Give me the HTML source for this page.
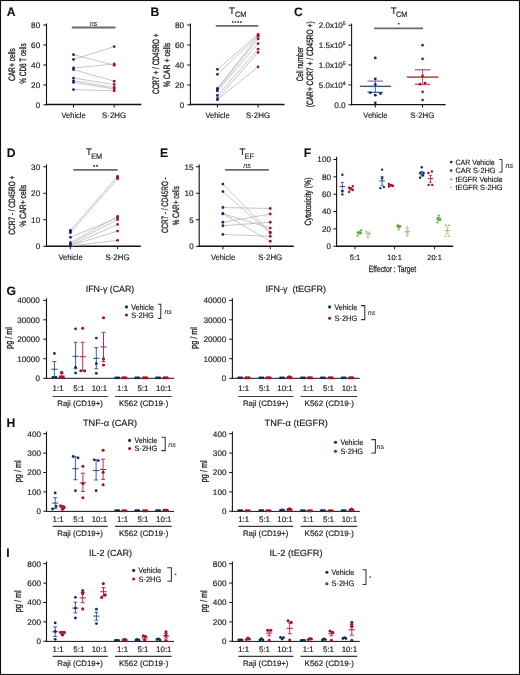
<!DOCTYPE html>
<html><head><meta charset="utf-8"><style>
html,body{margin:0;padding:0;background:#fff;}
body{width:520px;height:675px;overflow:hidden;}
svg{display:block;font-family:"Liberation Sans", sans-serif;will-change:transform;}
text{stroke:#1e1e1e;stroke-width:0.18px;text-rendering:geometricPrecision;}
</style></head><body>
<svg width="520" height="675" viewBox="0 0 520 675">
<g>
<text x="6.80" y="15.70" font-size="12.2" text-anchor="start" fill="#111" font-weight="bold" style="stroke-width:0.1px">A</text>
<line x1="46.50" y1="23.50" x2="46.50" y2="105.20" stroke="#111" stroke-width="1.1"/>
<line x1="43.30" y1="25.00" x2="46.50" y2="25.00" stroke="#111" stroke-width="1.0"/>
<text x="40.20" y="27.85" font-size="8.0" text-anchor="end" fill="#1e1e1e" textLength="9.08" lengthAdjust="spacingAndGlyphs">80</text>
<line x1="43.30" y1="45.00" x2="46.50" y2="45.00" stroke="#111" stroke-width="1.0"/>
<text x="40.20" y="47.85" font-size="8.0" text-anchor="end" fill="#1e1e1e" textLength="9.08" lengthAdjust="spacingAndGlyphs">60</text>
<line x1="43.30" y1="65.00" x2="46.50" y2="65.00" stroke="#111" stroke-width="1.0"/>
<text x="40.20" y="67.85" font-size="8.0" text-anchor="end" fill="#1e1e1e" textLength="9.08" lengthAdjust="spacingAndGlyphs">40</text>
<line x1="43.30" y1="85.00" x2="46.50" y2="85.00" stroke="#111" stroke-width="1.0"/>
<text x="40.20" y="87.85" font-size="8.0" text-anchor="end" fill="#1e1e1e" textLength="9.08" lengthAdjust="spacingAndGlyphs">20</text>
<line x1="43.30" y1="104.80" x2="46.50" y2="104.80" stroke="#111" stroke-width="1.0"/>
<text x="40.20" y="107.65" font-size="8.0" text-anchor="end" fill="#1e1e1e">0</text>
<line x1="45.90" y1="104.50" x2="141.30" y2="104.50" stroke="#111" stroke-width="1.4"/>
<line x1="73.50" y1="104.60" x2="73.50" y2="107.60" stroke="#111" stroke-width="1.0"/>
<line x1="114.20" y1="104.60" x2="114.20" y2="107.60" stroke="#111" stroke-width="1.0"/>
<text x="73.60" y="117.60" font-size="8.0" text-anchor="middle" fill="#1e1e1e" textLength="24.2" lengthAdjust="spacingAndGlyphs">Vehicle</text>
<text x="114.10" y="117.60" font-size="8.0" text-anchor="middle" fill="#1e1e1e" textLength="24.1" lengthAdjust="spacingAndGlyphs">S·2HG</text>
<text x="14.90" y="64.60" font-size="9.2" text-anchor="middle" fill="#1e1e1e" textLength="33" lengthAdjust="spacingAndGlyphs" transform="rotate(-90 14.90 64.60)" style="stroke-width:0.32px">CAR+ cells</text>
<text x="25.60" y="63.50" font-size="9.2" text-anchor="middle" fill="#1e1e1e" textLength="40.5" lengthAdjust="spacingAndGlyphs" transform="rotate(-90 25.60 63.50)" style="stroke-width:0.32px">% CD8 T cells</text>
<line x1="71.80" y1="27.50" x2="115.50" y2="27.50" stroke="#6a6a6a" stroke-width="1.8"/>
<text x="93.60" y="25.60" font-size="7.3" text-anchor="middle" fill="#1e1e1e" font-style="italic" style="stroke-width:0.05px">ns</text>
<line x1="73.50" y1="54.65" x2="114.20" y2="65.20" stroke="#bcbcbc" stroke-width="0.85"/>
<line x1="73.50" y1="59.40" x2="114.20" y2="46.60" stroke="#bcbcbc" stroke-width="0.85"/>
<line x1="73.50" y1="68.00" x2="114.20" y2="64.00" stroke="#bcbcbc" stroke-width="0.85"/>
<line x1="73.50" y1="69.60" x2="114.20" y2="81.20" stroke="#bcbcbc" stroke-width="0.85"/>
<line x1="73.50" y1="78.10" x2="114.20" y2="84.50" stroke="#bcbcbc" stroke-width="0.85"/>
<line x1="73.50" y1="80.80" x2="114.20" y2="87.50" stroke="#bcbcbc" stroke-width="0.85"/>
<line x1="73.50" y1="82.40" x2="114.20" y2="89.00" stroke="#bcbcbc" stroke-width="0.85"/>
<line x1="73.50" y1="89.60" x2="114.20" y2="90.80" stroke="#bcbcbc" stroke-width="0.85"/>
<circle cx="73.50" cy="54.65" r="1.4" fill="#0e2c6c"/>
<circle cx="114.20" cy="65.20" r="1.4" fill="#a8102c"/>
<circle cx="73.50" cy="59.40" r="1.4" fill="#0e2c6c"/>
<circle cx="114.20" cy="46.60" r="1.4" fill="#a8102c"/>
<circle cx="73.50" cy="68.00" r="1.4" fill="#0e2c6c"/>
<circle cx="114.20" cy="64.00" r="1.4" fill="#a8102c"/>
<circle cx="73.50" cy="69.60" r="1.4" fill="#0e2c6c"/>
<circle cx="114.20" cy="81.20" r="1.4" fill="#a8102c"/>
<circle cx="73.50" cy="78.10" r="1.4" fill="#0e2c6c"/>
<circle cx="114.20" cy="84.50" r="1.4" fill="#a8102c"/>
<circle cx="73.50" cy="80.80" r="1.4" fill="#0e2c6c"/>
<circle cx="114.20" cy="87.50" r="1.4" fill="#a8102c"/>
<circle cx="73.50" cy="82.40" r="1.4" fill="#0e2c6c"/>
<circle cx="114.20" cy="89.00" r="1.4" fill="#a8102c"/>
<circle cx="73.50" cy="89.60" r="1.4" fill="#0e2c6c"/>
<circle cx="114.20" cy="90.80" r="1.4" fill="#a8102c"/>
<text x="150.60" y="15.70" font-size="12.2" text-anchor="start" fill="#111" font-weight="bold" style="stroke-width:0.1px">B</text>
<line x1="190.40" y1="23.50" x2="190.40" y2="105.20" stroke="#111" stroke-width="1.1"/>
<line x1="187.20" y1="25.00" x2="190.40" y2="25.00" stroke="#111" stroke-width="1.0"/>
<text x="184.10" y="27.85" font-size="8.0" text-anchor="end" fill="#1e1e1e" textLength="9.08" lengthAdjust="spacingAndGlyphs">80</text>
<line x1="187.20" y1="45.00" x2="190.40" y2="45.00" stroke="#111" stroke-width="1.0"/>
<text x="184.10" y="47.85" font-size="8.0" text-anchor="end" fill="#1e1e1e" textLength="9.08" lengthAdjust="spacingAndGlyphs">60</text>
<line x1="187.20" y1="65.00" x2="190.40" y2="65.00" stroke="#111" stroke-width="1.0"/>
<text x="184.10" y="67.85" font-size="8.0" text-anchor="end" fill="#1e1e1e" textLength="9.08" lengthAdjust="spacingAndGlyphs">40</text>
<line x1="187.20" y1="85.00" x2="190.40" y2="85.00" stroke="#111" stroke-width="1.0"/>
<text x="184.10" y="87.85" font-size="8.0" text-anchor="end" fill="#1e1e1e" textLength="9.08" lengthAdjust="spacingAndGlyphs">20</text>
<line x1="187.20" y1="104.80" x2="190.40" y2="104.80" stroke="#111" stroke-width="1.0"/>
<text x="184.10" y="107.65" font-size="8.0" text-anchor="end" fill="#1e1e1e">0</text>
<line x1="189.80" y1="104.50" x2="284.60" y2="104.50" stroke="#111" stroke-width="1.4"/>
<line x1="217.40" y1="104.60" x2="217.40" y2="107.60" stroke="#111" stroke-width="1.0"/>
<line x1="258.10" y1="104.60" x2="258.10" y2="107.60" stroke="#111" stroke-width="1.0"/>
<text x="217.50" y="117.60" font-size="8.0" text-anchor="middle" fill="#1e1e1e" textLength="24.2" lengthAdjust="spacingAndGlyphs">Vehicle</text>
<text x="258.00" y="117.60" font-size="8.0" text-anchor="middle" fill="#1e1e1e" textLength="24.1" lengthAdjust="spacingAndGlyphs">S·2HG</text>
<text x="159.00" y="63.70" font-size="9.2" text-anchor="middle" fill="#1e1e1e" textLength="60.7" lengthAdjust="spacingAndGlyphs" transform="rotate(-90 159.00 63.70)" style="stroke-width:0.32px">CCR7 + / CD45RO +</text>
<text x="169.60" y="65.00" font-size="9.2" text-anchor="middle" fill="#1e1e1e" textLength="44.6" lengthAdjust="spacingAndGlyphs" transform="rotate(-90 169.60 65.00)" style="stroke-width:0.32px">% CAR + cells</text>
<line x1="215.70" y1="25.80" x2="258.30" y2="25.80" stroke="#6a6a6a" stroke-width="1.8"/>
<rect x="231.90" y="21.2" width="1.6" height="1.6" fill="#333"/>
<rect x="234.65" y="21.2" width="1.6" height="1.6" fill="#333"/>
<rect x="237.40" y="21.2" width="1.6" height="1.6" fill="#333"/>
<rect x="240.15" y="21.2" width="1.6" height="1.6" fill="#333"/>
<text x="229.00" y="13.60" font-size="9.6" text-anchor="start" fill="#1e1e1e">T</text>
<text x="234.90" y="16.80" font-size="7.8" text-anchor="start" fill="#1e1e1e" textLength="11.35" lengthAdjust="spacingAndGlyphs">CM</text>
<line x1="217.40" y1="69.30" x2="258.10" y2="34.30" stroke="#bcbcbc" stroke-width="0.85"/>
<line x1="217.40" y1="74.30" x2="258.10" y2="35.60" stroke="#bcbcbc" stroke-width="0.85"/>
<line x1="217.40" y1="88.30" x2="258.10" y2="36.40" stroke="#bcbcbc" stroke-width="0.85"/>
<line x1="217.40" y1="89.30" x2="258.10" y2="38.90" stroke="#bcbcbc" stroke-width="0.85"/>
<line x1="217.40" y1="90.90" x2="258.10" y2="43.60" stroke="#bcbcbc" stroke-width="0.85"/>
<line x1="217.40" y1="95.50" x2="258.10" y2="49.10" stroke="#bcbcbc" stroke-width="0.85"/>
<line x1="217.40" y1="98.70" x2="258.10" y2="52.40" stroke="#bcbcbc" stroke-width="0.85"/>
<line x1="217.40" y1="99.70" x2="258.10" y2="66.90" stroke="#bcbcbc" stroke-width="0.85"/>
<circle cx="217.40" cy="69.30" r="1.4" fill="#0e2c6c"/>
<circle cx="258.10" cy="34.30" r="1.4" fill="#a8102c"/>
<circle cx="217.40" cy="74.30" r="1.4" fill="#0e2c6c"/>
<circle cx="258.10" cy="35.60" r="1.4" fill="#a8102c"/>
<circle cx="217.40" cy="88.30" r="1.4" fill="#0e2c6c"/>
<circle cx="258.10" cy="36.40" r="1.4" fill="#a8102c"/>
<circle cx="217.40" cy="89.30" r="1.4" fill="#0e2c6c"/>
<circle cx="258.10" cy="38.90" r="1.4" fill="#a8102c"/>
<circle cx="217.40" cy="90.90" r="1.4" fill="#0e2c6c"/>
<circle cx="258.10" cy="43.60" r="1.4" fill="#a8102c"/>
<circle cx="217.40" cy="95.50" r="1.4" fill="#0e2c6c"/>
<circle cx="258.10" cy="49.10" r="1.4" fill="#a8102c"/>
<circle cx="217.40" cy="98.70" r="1.4" fill="#0e2c6c"/>
<circle cx="258.10" cy="52.40" r="1.4" fill="#a8102c"/>
<circle cx="217.40" cy="99.70" r="1.4" fill="#0e2c6c"/>
<circle cx="258.10" cy="66.90" r="1.4" fill="#a8102c"/>
<text x="294.10" y="15.70" font-size="12.2" text-anchor="start" fill="#111" font-weight="bold" style="stroke-width:0.1px">C</text>
<line x1="351.60" y1="23.50" x2="351.60" y2="105.20" stroke="#111" stroke-width="1.1"/>
<line x1="348.40" y1="25.30" x2="351.60" y2="25.30" stroke="#111" stroke-width="1.0"/>
<line x1="348.40" y1="45.10" x2="351.60" y2="45.10" stroke="#111" stroke-width="1.0"/>
<line x1="348.40" y1="65.00" x2="351.60" y2="65.00" stroke="#111" stroke-width="1.0"/>
<line x1="348.40" y1="84.90" x2="351.60" y2="84.90" stroke="#111" stroke-width="1.0"/>
<line x1="348.40" y1="104.80" x2="351.60" y2="104.80" stroke="#111" stroke-width="1.0"/>
<text x="345.60" y="107.65" font-size="8.0" text-anchor="end" fill="#1e1e1e" textLength="11.34" lengthAdjust="spacingAndGlyphs">0.0</text>
<text x="318.80" y="28.15" font-size="8.0" text-anchor="start" fill="#1e1e1e">2.0x10<tspan font-size="5.2" dy="-2.8">5</tspan></text>
<text x="318.80" y="47.95" font-size="8.0" text-anchor="start" fill="#1e1e1e">1.5x10<tspan font-size="5.2" dy="-2.8">5</tspan></text>
<text x="318.80" y="67.85" font-size="8.0" text-anchor="start" fill="#1e1e1e">1.0x10<tspan font-size="5.2" dy="-2.8">5</tspan></text>
<text x="318.80" y="87.75" font-size="8.0" text-anchor="start" fill="#1e1e1e">5.0x10<tspan font-size="5.2" dy="-2.8">4</tspan></text>
<line x1="351.00" y1="104.60" x2="445.60" y2="104.60" stroke="#111" stroke-width="1.4"/>
<line x1="375.30" y1="104.60" x2="375.30" y2="107.60" stroke="#111" stroke-width="1.0"/>
<line x1="422.50" y1="104.60" x2="422.50" y2="107.60" stroke="#111" stroke-width="1.0"/>
<text x="375.40" y="117.60" font-size="8.0" text-anchor="middle" fill="#1e1e1e" textLength="24.2" lengthAdjust="spacingAndGlyphs">Vehicle</text>
<text x="422.40" y="117.60" font-size="8.0" text-anchor="middle" fill="#1e1e1e" textLength="24.1" lengthAdjust="spacingAndGlyphs">S·2HG</text>
<text x="303.40" y="64.00" font-size="9.2" text-anchor="middle" fill="#1e1e1e" textLength="34.5" lengthAdjust="spacingAndGlyphs" transform="rotate(-90 303.40 64.00)" style="stroke-width:0.32px">Cell number</text>
<text x="312.60" y="64.30" font-size="9.2" text-anchor="middle" fill="#1e1e1e" textLength="86" lengthAdjust="spacingAndGlyphs" transform="rotate(-90 312.60 64.30)" style="stroke-width:0.32px">(CAR+ CCR7 + / CD45RO +)</text>
<line x1="374.20" y1="28.30" x2="423.00" y2="28.30" stroke="#6a6a6a" stroke-width="1.8"/>
<rect x="398.0" y="22.9" width="1.5" height="1.5" fill="#333"/>
<text x="390.80" y="14.20" font-size="9.6" text-anchor="start" fill="#1e1e1e">T</text>
<text x="396.00" y="17.00" font-size="7.8" text-anchor="start" fill="#1e1e1e" textLength="11.35" lengthAdjust="spacingAndGlyphs">CM</text>
<line x1="375.30" y1="81.10" x2="375.30" y2="92.30" stroke="#2c4b8c" stroke-width="0.9"/>
<line x1="367.50" y1="81.10" x2="383.00" y2="81.10" stroke="#5a72a6" stroke-width="1.1"/>
<line x1="367.50" y1="92.30" x2="383.00" y2="92.30" stroke="#2c4b8c" stroke-width="1.1"/>
<line x1="359.80" y1="86.30" x2="391.00" y2="86.30" stroke="#2c4b8c" stroke-width="1.3"/>
<circle cx="375.30" cy="57.90" r="1.4" fill="#0e2c6c"/>
<circle cx="375.30" cy="79.00" r="1.4" fill="#0e2c6c"/>
<circle cx="375.30" cy="84.60" r="1.4" fill="#0e2c6c"/>
<circle cx="370.30" cy="92.60" r="1.4" fill="#0e2c6c"/>
<circle cx="380.50" cy="93.60" r="1.4" fill="#0e2c6c"/>
<circle cx="375.30" cy="95.20" r="1.4" fill="#0e2c6c"/>
<circle cx="375.30" cy="102.80" r="1.4" fill="#0e2c6c"/>
<line x1="422.60" y1="69.80" x2="422.60" y2="84.30" stroke="#c4325a" stroke-width="0.9"/>
<line x1="414.90" y1="69.80" x2="430.40" y2="69.80" stroke="#c4325a" stroke-width="1.1"/>
<line x1="414.90" y1="84.30" x2="430.40" y2="84.30" stroke="#c4325a" stroke-width="1.1"/>
<line x1="406.90" y1="77.10" x2="438.50" y2="77.10" stroke="#b2604a" stroke-width="1.7"/>
<circle cx="422.60" cy="45.20" r="1.4" fill="#a8102c"/>
<circle cx="422.60" cy="58.90" r="1.4" fill="#a8102c"/>
<circle cx="422.60" cy="75.90" r="1.4" fill="#a8102c"/>
<circle cx="419.90" cy="84.20" r="1.4" fill="#a8102c"/>
<circle cx="425.10" cy="83.10" r="1.4" fill="#a8102c"/>
<circle cx="422.60" cy="91.80" r="1.4" fill="#a8102c"/>
<circle cx="422.60" cy="100.10" r="1.4" fill="#a8102c"/>
<text x="6.80" y="157.30" font-size="12.2" text-anchor="start" fill="#111" font-weight="bold" style="stroke-width:0.1px">D</text>
<line x1="46.50" y1="164.50" x2="46.50" y2="246.80" stroke="#111" stroke-width="1.1"/>
<line x1="43.30" y1="166.75" x2="46.50" y2="166.75" stroke="#111" stroke-width="1.0"/>
<text x="40.20" y="169.60" font-size="8.0" text-anchor="end" fill="#1e1e1e" textLength="9.08" lengthAdjust="spacingAndGlyphs">30</text>
<line x1="43.30" y1="193.25" x2="46.50" y2="193.25" stroke="#111" stroke-width="1.0"/>
<text x="40.20" y="196.10" font-size="8.0" text-anchor="end" fill="#1e1e1e" textLength="9.08" lengthAdjust="spacingAndGlyphs">20</text>
<line x1="43.30" y1="219.75" x2="46.50" y2="219.75" stroke="#111" stroke-width="1.0"/>
<text x="40.20" y="222.60" font-size="8.0" text-anchor="end" fill="#1e1e1e" textLength="9.08" lengthAdjust="spacingAndGlyphs">10</text>
<line x1="43.30" y1="246.30" x2="46.50" y2="246.30" stroke="#111" stroke-width="1.0"/>
<text x="40.20" y="249.15" font-size="8.0" text-anchor="end" fill="#1e1e1e">0</text>
<line x1="45.90" y1="246.20" x2="140.80" y2="246.20" stroke="#111" stroke-width="1.4"/>
<line x1="70.40" y1="246.30" x2="70.40" y2="249.30" stroke="#111" stroke-width="1.0"/>
<line x1="117.60" y1="246.30" x2="117.60" y2="249.30" stroke="#111" stroke-width="1.0"/>
<text x="70.50" y="259.50" font-size="8.0" text-anchor="middle" fill="#1e1e1e" textLength="24.2" lengthAdjust="spacingAndGlyphs">Vehicle</text>
<text x="117.50" y="259.50" font-size="8.0" text-anchor="middle" fill="#1e1e1e" textLength="24.1" lengthAdjust="spacingAndGlyphs">S·2HG</text>
<text x="15.30" y="205.20" font-size="9.2" text-anchor="middle" fill="#1e1e1e" textLength="59" lengthAdjust="spacingAndGlyphs" transform="rotate(-90 15.30 205.20)" style="stroke-width:0.32px">CCR7 - / CD45RO +</text>
<text x="25.90" y="205.70" font-size="9.2" text-anchor="middle" fill="#1e1e1e" textLength="42" lengthAdjust="spacingAndGlyphs" transform="rotate(-90 25.90 205.70)" style="stroke-width:0.32px">% CAR+ cells</text>
<line x1="73.30" y1="169.80" x2="117.60" y2="169.80" stroke="#6a6a6a" stroke-width="1.8"/>
<rect x="93.30" y="165.0" width="1.7" height="1.7" fill="#333"/>
<rect x="96.20" y="165.0" width="1.7" height="1.7" fill="#333"/>
<text x="86.00" y="155.00" font-size="9.6" text-anchor="start" fill="#1e1e1e">T</text>
<text x="91.20" y="158.70" font-size="7.8" text-anchor="start" fill="#1e1e1e" textLength="10.95" lengthAdjust="spacingAndGlyphs">EM</text>
<line x1="70.40" y1="230.30" x2="117.60" y2="176.30" stroke="#bcbcbc" stroke-width="0.85"/>
<line x1="70.40" y1="232.70" x2="117.60" y2="178.70" stroke="#bcbcbc" stroke-width="0.85"/>
<line x1="70.40" y1="237.30" x2="117.60" y2="217.70" stroke="#bcbcbc" stroke-width="0.85"/>
<line x1="70.40" y1="242.70" x2="117.60" y2="216.40" stroke="#bcbcbc" stroke-width="0.85"/>
<line x1="70.40" y1="244.00" x2="117.60" y2="219.60" stroke="#bcbcbc" stroke-width="0.85"/>
<line x1="70.40" y1="245.30" x2="117.60" y2="224.40" stroke="#bcbcbc" stroke-width="0.85"/>
<line x1="70.40" y1="245.60" x2="117.60" y2="231.10" stroke="#bcbcbc" stroke-width="0.85"/>
<line x1="70.40" y1="246.00" x2="117.60" y2="240.30" stroke="#bcbcbc" stroke-width="0.85"/>
<circle cx="70.40" cy="230.30" r="1.4" fill="#0e2c6c"/>
<circle cx="117.60" cy="176.30" r="1.4" fill="#a8102c"/>
<circle cx="70.40" cy="232.70" r="1.4" fill="#0e2c6c"/>
<circle cx="117.60" cy="178.70" r="1.4" fill="#a8102c"/>
<circle cx="70.40" cy="237.30" r="1.4" fill="#0e2c6c"/>
<circle cx="117.60" cy="217.70" r="1.4" fill="#a8102c"/>
<circle cx="70.40" cy="242.70" r="1.4" fill="#0e2c6c"/>
<circle cx="117.60" cy="216.40" r="1.4" fill="#a8102c"/>
<circle cx="70.40" cy="244.00" r="1.4" fill="#0e2c6c"/>
<circle cx="117.60" cy="219.60" r="1.4" fill="#a8102c"/>
<circle cx="70.40" cy="245.30" r="1.4" fill="#0e2c6c"/>
<circle cx="117.60" cy="224.40" r="1.4" fill="#a8102c"/>
<circle cx="70.40" cy="245.60" r="1.4" fill="#0e2c6c"/>
<circle cx="117.60" cy="231.10" r="1.4" fill="#a8102c"/>
<circle cx="70.40" cy="246.00" r="1.4" fill="#0e2c6c"/>
<circle cx="117.60" cy="240.30" r="1.4" fill="#a8102c"/>
<circle cx="117.60" cy="177.30" r="1.4" fill="#a8102c"/>
<circle cx="70.40" cy="231.60" r="1.4" fill="#0e2c6c"/>
<text x="160.00" y="157.30" font-size="12.2" text-anchor="start" fill="#111" font-weight="bold" style="stroke-width:0.1px">E</text>
<line x1="199.20" y1="164.50" x2="199.20" y2="246.90" stroke="#111" stroke-width="1.1"/>
<line x1="196.00" y1="166.75" x2="199.20" y2="166.75" stroke="#111" stroke-width="1.0"/>
<text x="193.60" y="169.60" font-size="8.0" text-anchor="end" fill="#1e1e1e" textLength="9.08" lengthAdjust="spacingAndGlyphs">15</text>
<line x1="196.00" y1="193.25" x2="199.20" y2="193.25" stroke="#111" stroke-width="1.0"/>
<text x="193.60" y="196.10" font-size="8.0" text-anchor="end" fill="#1e1e1e" textLength="9.08" lengthAdjust="spacingAndGlyphs">10</text>
<line x1="196.00" y1="219.75" x2="199.20" y2="219.75" stroke="#111" stroke-width="1.0"/>
<text x="193.60" y="222.60" font-size="8.0" text-anchor="end" fill="#1e1e1e">5</text>
<line x1="196.00" y1="246.30" x2="199.20" y2="246.30" stroke="#111" stroke-width="1.0"/>
<text x="193.60" y="249.15" font-size="8.0" text-anchor="end" fill="#1e1e1e">0</text>
<line x1="198.60" y1="246.20" x2="293.80" y2="246.20" stroke="#111" stroke-width="1.4"/>
<line x1="222.90" y1="246.30" x2="222.90" y2="249.30" stroke="#111" stroke-width="1.0"/>
<line x1="270.25" y1="246.30" x2="270.25" y2="249.30" stroke="#111" stroke-width="1.0"/>
<text x="223.00" y="259.50" font-size="8.0" text-anchor="middle" fill="#1e1e1e" textLength="24.2" lengthAdjust="spacingAndGlyphs">Vehicle</text>
<text x="270.20" y="259.50" font-size="8.0" text-anchor="middle" fill="#1e1e1e" textLength="24.1" lengthAdjust="spacingAndGlyphs">S·2HG</text>
<text x="168.30" y="205.20" font-size="9.2" text-anchor="middle" fill="#1e1e1e" textLength="55.7" lengthAdjust="spacingAndGlyphs" transform="rotate(-90 168.30 205.20)" style="stroke-width:0.32px">CCR7 - / CD45RO -</text>
<text x="178.90" y="205.70" font-size="9.2" text-anchor="middle" fill="#1e1e1e" textLength="39.3" lengthAdjust="spacingAndGlyphs" transform="rotate(-90 178.90 205.70)" style="stroke-width:0.32px">% CAR+ cells</text>
<line x1="225.00" y1="169.80" x2="268.80" y2="169.80" stroke="#6a6a6a" stroke-width="1.8"/>
<text x="247.00" y="167.90" font-size="7.3" text-anchor="middle" fill="#1e1e1e" font-style="italic" style="stroke-width:0.05px">ns</text>
<text x="239.40" y="155.00" font-size="9.6" text-anchor="start" fill="#1e1e1e">T</text>
<text x="244.60" y="158.70" font-size="7.8" text-anchor="start" fill="#1e1e1e" textLength="9.33" lengthAdjust="spacingAndGlyphs">EF</text>
<line x1="222.90" y1="184.10" x2="270.25" y2="232.25" stroke="#bcbcbc" stroke-width="0.85"/>
<line x1="222.90" y1="191.60" x2="270.25" y2="233.10" stroke="#bcbcbc" stroke-width="0.85"/>
<line x1="222.90" y1="207.50" x2="270.25" y2="208.50" stroke="#bcbcbc" stroke-width="0.85"/>
<line x1="222.90" y1="213.75" x2="270.25" y2="228.10" stroke="#bcbcbc" stroke-width="0.85"/>
<line x1="222.90" y1="213.75" x2="270.25" y2="241.25" stroke="#bcbcbc" stroke-width="0.85"/>
<line x1="222.90" y1="222.25" x2="270.25" y2="214.00" stroke="#bcbcbc" stroke-width="0.85"/>
<line x1="222.90" y1="225.75" x2="270.25" y2="222.25" stroke="#bcbcbc" stroke-width="0.85"/>
<line x1="222.90" y1="234.40" x2="270.25" y2="236.25" stroke="#bcbcbc" stroke-width="0.85"/>
<circle cx="222.90" cy="184.10" r="1.4" fill="#0e2c6c"/>
<circle cx="270.25" cy="232.25" r="1.4" fill="#a8102c"/>
<circle cx="222.90" cy="191.60" r="1.4" fill="#0e2c6c"/>
<circle cx="270.25" cy="233.10" r="1.4" fill="#a8102c"/>
<circle cx="222.90" cy="207.50" r="1.4" fill="#0e2c6c"/>
<circle cx="270.25" cy="208.50" r="1.4" fill="#a8102c"/>
<circle cx="222.90" cy="213.75" r="1.4" fill="#0e2c6c"/>
<circle cx="270.25" cy="228.10" r="1.4" fill="#a8102c"/>
<circle cx="222.90" cy="213.75" r="1.4" fill="#0e2c6c"/>
<circle cx="270.25" cy="241.25" r="1.4" fill="#a8102c"/>
<circle cx="222.90" cy="222.25" r="1.4" fill="#0e2c6c"/>
<circle cx="270.25" cy="214.00" r="1.4" fill="#a8102c"/>
<circle cx="222.90" cy="225.75" r="1.4" fill="#0e2c6c"/>
<circle cx="270.25" cy="222.25" r="1.4" fill="#a8102c"/>
<circle cx="222.90" cy="234.40" r="1.4" fill="#0e2c6c"/>
<circle cx="270.25" cy="236.25" r="1.4" fill="#a8102c"/>
<text x="303.80" y="157.30" font-size="12.2" text-anchor="start" fill="#111" font-weight="bold" style="stroke-width:0.1px">F</text>
<line x1="336.60" y1="156.70" x2="336.60" y2="246.80" stroke="#111" stroke-width="1.1"/>
<line x1="333.40" y1="159.50" x2="336.60" y2="159.50" stroke="#111" stroke-width="1.0"/>
<text x="331.00" y="162.35" font-size="8.0" text-anchor="end" fill="#1e1e1e" textLength="13.61" lengthAdjust="spacingAndGlyphs">100</text>
<line x1="333.40" y1="176.85" x2="336.60" y2="176.85" stroke="#111" stroke-width="1.0"/>
<text x="331.00" y="179.70" font-size="8.0" text-anchor="end" fill="#1e1e1e" textLength="9.08" lengthAdjust="spacingAndGlyphs">80</text>
<line x1="333.40" y1="194.20" x2="336.60" y2="194.20" stroke="#111" stroke-width="1.0"/>
<text x="331.00" y="197.05" font-size="8.0" text-anchor="end" fill="#1e1e1e" textLength="9.08" lengthAdjust="spacingAndGlyphs">60</text>
<line x1="333.40" y1="211.55" x2="336.60" y2="211.55" stroke="#111" stroke-width="1.0"/>
<text x="331.00" y="214.40" font-size="8.0" text-anchor="end" fill="#1e1e1e" textLength="9.08" lengthAdjust="spacingAndGlyphs">40</text>
<line x1="333.40" y1="228.90" x2="336.60" y2="228.90" stroke="#111" stroke-width="1.0"/>
<text x="331.00" y="231.75" font-size="8.0" text-anchor="end" fill="#1e1e1e" textLength="9.08" lengthAdjust="spacingAndGlyphs">20</text>
<line x1="333.40" y1="246.25" x2="336.60" y2="246.25" stroke="#111" stroke-width="1.0"/>
<text x="331.00" y="249.10" font-size="8.0" text-anchor="end" fill="#1e1e1e">0</text>
<line x1="336.00" y1="246.20" x2="453.20" y2="246.20" stroke="#111" stroke-width="1.4"/>
<line x1="355.00" y1="246.30" x2="355.00" y2="249.30" stroke="#111" stroke-width="1.0"/>
<text x="355.00" y="259.60" font-size="7.5" text-anchor="middle" fill="#1e1e1e">5:1</text>
<line x1="394.60" y1="246.30" x2="394.60" y2="249.30" stroke="#111" stroke-width="1.0"/>
<text x="394.60" y="259.60" font-size="7.5" text-anchor="middle" fill="#1e1e1e">10:1</text>
<line x1="434.60" y1="246.30" x2="434.60" y2="249.30" stroke="#111" stroke-width="1.0"/>
<text x="434.60" y="259.60" font-size="7.5" text-anchor="middle" fill="#1e1e1e">20:1</text>
<text x="392.50" y="271.80" font-size="9.0" text-anchor="middle" fill="#1e1e1e" textLength="47.5" lengthAdjust="spacingAndGlyphs" style="stroke-width:0.25px">Effector : Target</text>
<text x="310.80" y="201.50" font-size="9.2" text-anchor="middle" fill="#1e1e1e" textLength="48" lengthAdjust="spacingAndGlyphs" transform="rotate(-90 310.80 201.50)" style="stroke-width:0.32px">Cytotoxicity (%)</text>
<line x1="342.40" y1="182.50" x2="342.40" y2="190.50" stroke="#2c4b8c" stroke-width="0.8"/>
<line x1="340.70" y1="182.50" x2="344.10" y2="182.50" stroke="#2c4b8c" stroke-width="0.8"/>
<line x1="340.70" y1="190.50" x2="344.10" y2="190.50" stroke="#2c4b8c" stroke-width="0.8"/>
<line x1="339.70" y1="186.50" x2="345.10" y2="186.50" stroke="#2c4b8c" stroke-width="1.0"/>
<circle cx="342.40" cy="174.70" r="1.2" fill="#0e2c6c"/>
<circle cx="342.40" cy="191.40" r="1.2" fill="#0e2c6c"/>
<circle cx="342.40" cy="194.40" r="1.2" fill="#0e2c6c"/>
<line x1="350.90" y1="187.50" x2="350.90" y2="190.10" stroke="#b81a40" stroke-width="0.8"/>
<line x1="349.20" y1="187.50" x2="352.60" y2="187.50" stroke="#b81a40" stroke-width="0.8"/>
<line x1="349.20" y1="190.10" x2="352.60" y2="190.10" stroke="#b81a40" stroke-width="0.8"/>
<line x1="348.20" y1="188.80" x2="353.60" y2="188.80" stroke="#b81a40" stroke-width="1.0"/>
<circle cx="352.80" cy="186.10" r="1.2" fill="#a8102c"/>
<circle cx="349.10" cy="187.80" r="1.2" fill="#a8102c"/>
<circle cx="350.60" cy="188.80" r="1.2" fill="#a8102c"/>
<circle cx="352.80" cy="190.10" r="1.2" fill="#a8102c"/>
<circle cx="349.10" cy="191.90" r="1.2" fill="#a8102c"/>
<line x1="382.10" y1="176.60" x2="382.10" y2="185.30" stroke="#2c4b8c" stroke-width="0.8"/>
<line x1="380.40" y1="176.60" x2="383.80" y2="176.60" stroke="#2c4b8c" stroke-width="0.8"/>
<line x1="380.40" y1="185.30" x2="383.80" y2="185.30" stroke="#2c4b8c" stroke-width="0.8"/>
<line x1="379.40" y1="180.90" x2="384.80" y2="180.90" stroke="#2c4b8c" stroke-width="1.0"/>
<circle cx="382.10" cy="169.60" r="1.2" fill="#0e2c6c"/>
<circle cx="382.10" cy="178.30" r="1.2" fill="#0e2c6c"/>
<circle cx="380.40" cy="188.10" r="1.2" fill="#0e2c6c"/>
<circle cx="383.90" cy="187.10" r="1.2" fill="#0e2c6c"/>
<line x1="390.60" y1="184.60" x2="390.60" y2="186.20" stroke="#b81a40" stroke-width="0.8"/>
<line x1="388.90" y1="184.60" x2="392.30" y2="184.60" stroke="#b81a40" stroke-width="0.8"/>
<line x1="388.90" y1="186.20" x2="392.30" y2="186.20" stroke="#b81a40" stroke-width="0.8"/>
<line x1="387.90" y1="185.40" x2="393.30" y2="185.40" stroke="#b81a40" stroke-width="1.0"/>
<circle cx="388.90" cy="184.00" r="1.2" fill="#a8102c"/>
<circle cx="389.00" cy="186.50" r="1.2" fill="#a8102c"/>
<circle cx="391.40" cy="185.00" r="1.2" fill="#a8102c"/>
<circle cx="393.00" cy="185.90" r="1.2" fill="#a8102c"/>
<line x1="421.80" y1="171.50" x2="421.80" y2="176.00" stroke="#2c4b8c" stroke-width="0.8"/>
<line x1="420.10" y1="171.50" x2="423.50" y2="171.50" stroke="#2c4b8c" stroke-width="0.8"/>
<line x1="420.10" y1="176.00" x2="423.50" y2="176.00" stroke="#2c4b8c" stroke-width="0.8"/>
<line x1="419.10" y1="174.00" x2="424.50" y2="174.00" stroke="#2c4b8c" stroke-width="1.0"/>
<circle cx="421.80" cy="167.30" r="1.2" fill="#0e2c6c"/>
<circle cx="420.30" cy="173.00" r="1.2" fill="#0e2c6c"/>
<circle cx="423.60" cy="173.00" r="1.2" fill="#0e2c6c"/>
<circle cx="423.00" cy="175.40" r="1.2" fill="#0e2c6c"/>
<circle cx="420.10" cy="177.80" r="1.2" fill="#0e2c6c"/>
<line x1="430.50" y1="175.40" x2="430.50" y2="182.20" stroke="#b81a40" stroke-width="0.8"/>
<line x1="428.80" y1="175.40" x2="432.20" y2="175.40" stroke="#b81a40" stroke-width="0.8"/>
<line x1="428.80" y1="182.20" x2="432.20" y2="182.20" stroke="#b81a40" stroke-width="0.8"/>
<line x1="427.80" y1="178.70" x2="433.20" y2="178.70" stroke="#b81a40" stroke-width="1.0"/>
<circle cx="431.90" cy="171.50" r="1.2" fill="#a8102c"/>
<circle cx="428.40" cy="173.00" r="1.2" fill="#a8102c"/>
<circle cx="428.60" cy="184.90" r="1.2" fill="#a8102c"/>
<circle cx="432.30" cy="184.90" r="1.2" fill="#a8102c"/>
<line x1="359.50" y1="231.40" x2="359.50" y2="234.00" stroke="#52a535" stroke-width="0.8"/>
<line x1="357.80" y1="231.40" x2="361.20" y2="231.40" stroke="#52a535" stroke-width="0.8"/>
<line x1="357.80" y1="234.00" x2="361.20" y2="234.00" stroke="#52a535" stroke-width="0.8"/>
<line x1="356.80" y1="232.70" x2="362.20" y2="232.70" stroke="#52a535" stroke-width="1.0"/>
<path d="M359.90 230.94L362.50 230.94L361.20 228.60Z" fill="#52a535"/>
<path d="M356.50 233.44L359.10 233.44L357.80 231.10Z" fill="#52a535"/>
<path d="M359.20 234.04L361.80 234.04L360.50 231.70Z" fill="#52a535"/>
<path d="M356.20 236.54L358.80 236.54L357.50 234.20Z" fill="#52a535"/>
<line x1="368.00" y1="232.00" x2="368.00" y2="235.60" stroke="#adbd82" stroke-width="0.8"/>
<line x1="366.30" y1="232.00" x2="369.70" y2="232.00" stroke="#adbd82" stroke-width="0.8"/>
<line x1="366.30" y1="235.60" x2="369.70" y2="235.60" stroke="#adbd82" stroke-width="0.8"/>
<line x1="365.30" y1="233.60" x2="370.70" y2="233.60" stroke="#adbd82" stroke-width="1.0"/>
<path d="M364.90 232.24L367.50 232.24L366.20 229.90Z" fill="#adbd82"/>
<path d="M368.30 234.34L370.90 234.34L369.60 232.00Z" fill="#adbd82"/>
<path d="M366.60 238.24L369.20 238.24L367.90 235.90Z" fill="#adbd82"/>
<line x1="398.80" y1="225.40" x2="398.80" y2="227.60" stroke="#52a535" stroke-width="0.8"/>
<line x1="397.10" y1="225.40" x2="400.50" y2="225.40" stroke="#52a535" stroke-width="0.8"/>
<line x1="397.10" y1="227.60" x2="400.50" y2="227.60" stroke="#52a535" stroke-width="0.8"/>
<line x1="396.10" y1="226.40" x2="401.50" y2="226.40" stroke="#52a535" stroke-width="1.0"/>
<path d="M396.50 225.64L399.10 225.64L397.80 223.30Z" fill="#52a535"/>
<path d="M398.70 226.84L401.30 226.84L400.00 224.50Z" fill="#52a535"/>
<path d="M397.50 230.24L400.10 230.24L398.80 227.90Z" fill="#52a535"/>
<path d="M398.30 227.44L400.90 227.44L399.60 225.10Z" fill="#52a535"/>
<line x1="407.30" y1="228.80" x2="407.30" y2="234.00" stroke="#adbd82" stroke-width="0.8"/>
<line x1="405.60" y1="228.80" x2="409.00" y2="228.80" stroke="#adbd82" stroke-width="0.8"/>
<line x1="405.60" y1="234.00" x2="409.00" y2="234.00" stroke="#adbd82" stroke-width="0.8"/>
<line x1="404.60" y1="231.50" x2="410.00" y2="231.50" stroke="#adbd82" stroke-width="1.0"/>
<path d="M406.00 227.64L408.60 227.64L407.30 225.30Z" fill="#adbd82"/>
<path d="M405.10 232.54L407.70 232.54L406.40 230.20Z" fill="#adbd82"/>
<path d="M407.10 232.54L409.70 232.54L408.40 230.20Z" fill="#adbd82"/>
<path d="M406.00 236.44L408.60 236.44L407.30 234.10Z" fill="#adbd82"/>
<line x1="438.80" y1="217.40" x2="438.80" y2="220.60" stroke="#52a535" stroke-width="0.8"/>
<line x1="437.10" y1="217.40" x2="440.50" y2="217.40" stroke="#52a535" stroke-width="0.8"/>
<line x1="437.10" y1="220.60" x2="440.50" y2="220.60" stroke="#52a535" stroke-width="0.8"/>
<line x1="436.10" y1="219.00" x2="441.50" y2="219.00" stroke="#52a535" stroke-width="1.0"/>
<path d="M437.50 216.14L440.10 216.14L438.80 213.80Z" fill="#52a535"/>
<path d="M436.30 219.04L438.90 219.04L437.60 216.70Z" fill="#52a535"/>
<path d="M438.90 220.24L441.50 220.24L440.20 217.90Z" fill="#52a535"/>
<path d="M436.10 223.24L438.70 223.24L437.40 220.90Z" fill="#52a535"/>
<path d="M438.30 220.84L440.90 220.84L439.60 218.50Z" fill="#52a535"/>
<line x1="447.30" y1="227.00" x2="447.30" y2="233.50" stroke="#adbd82" stroke-width="0.8"/>
<line x1="445.60" y1="227.00" x2="449.00" y2="227.00" stroke="#adbd82" stroke-width="0.8"/>
<line x1="445.60" y1="233.50" x2="449.00" y2="233.50" stroke="#adbd82" stroke-width="0.8"/>
<line x1="444.60" y1="230.50" x2="450.00" y2="230.50" stroke="#adbd82" stroke-width="1.0"/>
<path d="M444.40 225.94L447.00 225.94L445.70 223.60Z" fill="#adbd82"/>
<path d="M447.90 225.94L450.50 225.94L449.20 223.60Z" fill="#adbd82"/>
<path d="M446.00 231.54L448.60 231.54L447.30 229.20Z" fill="#adbd82"/>
<path d="M444.20 236.84L446.80 236.84L445.50 234.50Z" fill="#adbd82"/>
<path d="M447.70 236.84L450.30 236.84L449.00 234.50Z" fill="#adbd82"/>
<circle cx="451.20" cy="162.10" r="1.3" fill="#0e2c6c"/>
<circle cx="451.20" cy="170.60" r="1.3" fill="#a8102c"/>
<path d="M449.90 180.04L452.50 180.04L451.20 177.70Z" fill="#52a535"/>
<path d="M449.90 188.34L452.50 188.34L451.20 186.00Z" fill="#adbd82"/>
<text x="455.50" y="164.70" font-size="7.6" text-anchor="start" fill="#1e1e1e" textLength="39.2" lengthAdjust="spacingAndGlyphs">CAR Vehicle</text>
<text x="455.50" y="173.20" font-size="7.6" text-anchor="start" fill="#1e1e1e" textLength="40.0" lengthAdjust="spacingAndGlyphs">CAR S·2HG</text>
<text x="455.50" y="181.60" font-size="7.6" text-anchor="start" fill="#1e1e1e" textLength="47.1" lengthAdjust="spacingAndGlyphs">tEGFR Vehicle</text>
<text x="455.50" y="189.90" font-size="7.6" text-anchor="start" fill="#1e1e1e" textLength="47.1" lengthAdjust="spacingAndGlyphs">tEGFR S·2HG</text>
<path d="M499.2 159.5H502V172.2H499.2" fill="none" stroke="#222" stroke-width="0.9"/>
<text x="509.20" y="168.40" font-size="7.2" text-anchor="middle" fill="#1e1e1e" font-style="italic" style="stroke-width:0.05px">ns</text>
<line x1="46.50" y1="298.20" x2="46.50" y2="378.90" stroke="#111" stroke-width="1.1"/>
<line x1="43.30" y1="300.40" x2="46.50" y2="300.40" stroke="#111" stroke-width="1.0"/>
<text x="39.90" y="303.25" font-size="8.0" text-anchor="end" fill="#1e1e1e" textLength="22.69" lengthAdjust="spacingAndGlyphs">40000</text>
<line x1="43.30" y1="319.80" x2="46.50" y2="319.80" stroke="#111" stroke-width="1.0"/>
<text x="39.90" y="322.65" font-size="8.0" text-anchor="end" fill="#1e1e1e" textLength="22.69" lengthAdjust="spacingAndGlyphs">30000</text>
<line x1="43.30" y1="339.20" x2="46.50" y2="339.20" stroke="#111" stroke-width="1.0"/>
<text x="39.90" y="342.05" font-size="8.0" text-anchor="end" fill="#1e1e1e" textLength="22.69" lengthAdjust="spacingAndGlyphs">20000</text>
<line x1="43.30" y1="358.70" x2="46.50" y2="358.70" stroke="#111" stroke-width="1.0"/>
<text x="39.90" y="361.55" font-size="8.0" text-anchor="end" fill="#1e1e1e" textLength="22.69" lengthAdjust="spacingAndGlyphs">10000</text>
<line x1="43.30" y1="378.30" x2="46.50" y2="378.30" stroke="#111" stroke-width="1.0"/>
<text x="39.90" y="381.15" font-size="8.0" text-anchor="end" fill="#1e1e1e">0</text>
<line x1="45.90" y1="378.30" x2="174.20" y2="378.30" stroke="#111" stroke-width="1.0"/>
<text x="58.10" y="391.20" font-size="7.9" text-anchor="middle" fill="#1e1e1e">1:1</text>
<text x="78.80" y="391.20" font-size="7.9" text-anchor="middle" fill="#1e1e1e">5:1</text>
<text x="99.40" y="391.20" font-size="7.9" text-anchor="middle" fill="#1e1e1e">10:1</text>
<text x="122.60" y="391.20" font-size="7.9" text-anchor="middle" fill="#1e1e1e">1:1</text>
<text x="142.90" y="391.20" font-size="7.9" text-anchor="middle" fill="#1e1e1e">5:1</text>
<text x="163.80" y="391.20" font-size="7.9" text-anchor="middle" fill="#1e1e1e">10:1</text>
<line x1="52.70" y1="396.50" x2="107.80" y2="396.50" stroke="#3a3a3a" stroke-width="1.2"/>
<line x1="115.00" y1="396.50" x2="171.60" y2="396.50" stroke="#3a3a3a" stroke-width="1.2"/>
<text x="80.10" y="405.70" font-size="7.9" text-anchor="middle" fill="#1e1e1e" textLength="45.6" lengthAdjust="spacingAndGlyphs">Raji (CD19+)</text>
<text x="143.70" y="405.70" font-size="7.9" text-anchor="middle" fill="#1e1e1e" textLength="49.5" lengthAdjust="spacingAndGlyphs">K562 (CD19·)</text>
<text x="85.80" y="292.20" font-size="9.0" text-anchor="start" fill="#1e1e1e" textLength="48.4" lengthAdjust="spacingAndGlyphs">IFN-γ (CAR)</text>
<text x="11.90" y="338.00" font-size="9.4" text-anchor="middle" fill="#1e1e1e" textLength="21.8" lengthAdjust="spacingAndGlyphs" transform="rotate(-90 11.90 338.00)" style="stroke-width:0.32px">pg / ml</text>
<line x1="54.40" y1="361.50" x2="54.40" y2="377.00" stroke="#2c4b8c" stroke-width="0.9"/>
<line x1="52.40" y1="361.50" x2="56.40" y2="361.50" stroke="#2c4b8c" stroke-width="0.9"/>
<line x1="52.40" y1="377.00" x2="56.40" y2="377.00" stroke="#2c4b8c" stroke-width="0.9"/>
<line x1="51.30" y1="369.20" x2="57.50" y2="369.20" stroke="#2c4b8c" stroke-width="1.0"/>
<circle cx="53.00" cy="377.30" r="1.4" fill="#0e2c6c"/>
<circle cx="56.00" cy="377.30" r="1.4" fill="#0e2c6c"/>
<circle cx="54.40" cy="353.50" r="1.4" fill="#0e2c6c"/>
<line x1="61.70" y1="373.50" x2="61.70" y2="378.00" stroke="#b81a40" stroke-width="0.9"/>
<line x1="59.70" y1="373.50" x2="63.70" y2="373.50" stroke="#b81a40" stroke-width="0.9"/>
<line x1="59.70" y1="378.00" x2="63.70" y2="378.00" stroke="#b81a40" stroke-width="0.9"/>
<line x1="58.60" y1="376.00" x2="64.80" y2="376.00" stroke="#b81a40" stroke-width="1.0"/>
<circle cx="60.30" cy="377.30" r="1.55" fill="#a8102c"/>
<circle cx="63.10" cy="377.30" r="1.55" fill="#a8102c"/>
<circle cx="61.70" cy="372.30" r="1.55" fill="#a8102c"/>
<line x1="75.60" y1="342.30" x2="75.60" y2="368.80" stroke="#2c4b8c" stroke-width="0.9"/>
<line x1="73.60" y1="342.30" x2="77.60" y2="342.30" stroke="#2c4b8c" stroke-width="0.9"/>
<line x1="73.60" y1="368.80" x2="77.60" y2="368.80" stroke="#2c4b8c" stroke-width="0.9"/>
<line x1="72.50" y1="356.30" x2="78.70" y2="356.30" stroke="#2c4b8c" stroke-width="1.0"/>
<circle cx="75.60" cy="328.80" r="1.4" fill="#0e2c6c"/>
<circle cx="75.60" cy="367.30" r="1.4" fill="#0e2c6c"/>
<circle cx="75.60" cy="373.00" r="1.4" fill="#0e2c6c"/>
<line x1="82.70" y1="342.30" x2="82.70" y2="370.80" stroke="#b81a40" stroke-width="0.9"/>
<line x1="80.70" y1="342.30" x2="84.70" y2="342.30" stroke="#b81a40" stroke-width="0.9"/>
<line x1="80.70" y1="370.80" x2="84.70" y2="370.80" stroke="#b81a40" stroke-width="0.9"/>
<line x1="79.60" y1="356.70" x2="85.80" y2="356.70" stroke="#b81a40" stroke-width="1.0"/>
<circle cx="82.70" cy="328.30" r="1.55" fill="#a8102c"/>
<circle cx="80.80" cy="370.80" r="1.55" fill="#a8102c"/>
<circle cx="84.60" cy="370.80" r="1.55" fill="#a8102c"/>
<line x1="96.30" y1="347.70" x2="96.30" y2="368.80" stroke="#2c4b8c" stroke-width="0.9"/>
<line x1="94.30" y1="347.70" x2="98.30" y2="347.70" stroke="#2c4b8c" stroke-width="0.9"/>
<line x1="94.30" y1="368.80" x2="98.30" y2="368.80" stroke="#2c4b8c" stroke-width="0.9"/>
<line x1="93.20" y1="358.30" x2="99.40" y2="358.30" stroke="#2c4b8c" stroke-width="1.0"/>
<circle cx="96.30" cy="338.10" r="1.4" fill="#0e2c6c"/>
<circle cx="96.30" cy="363.70" r="1.4" fill="#0e2c6c"/>
<circle cx="96.30" cy="373.30" r="1.4" fill="#0e2c6c"/>
<line x1="103.50" y1="332.30" x2="103.50" y2="361.50" stroke="#b81a40" stroke-width="0.9"/>
<line x1="101.50" y1="332.30" x2="105.50" y2="332.30" stroke="#b81a40" stroke-width="0.9"/>
<line x1="101.50" y1="361.50" x2="105.50" y2="361.50" stroke="#b81a40" stroke-width="0.9"/>
<line x1="100.40" y1="346.90" x2="106.60" y2="346.90" stroke="#b81a40" stroke-width="1.0"/>
<circle cx="103.50" cy="317.70" r="1.55" fill="#a8102c"/>
<circle cx="103.50" cy="358.70" r="1.55" fill="#a8102c"/>
<circle cx="103.50" cy="365.00" r="1.55" fill="#a8102c"/>
<circle cx="115.70" cy="377.80" r="1.4" fill="#0e2c6c"/>
<circle cx="117.30" cy="377.80" r="1.4" fill="#0e2c6c"/>
<circle cx="118.90" cy="377.80" r="1.4" fill="#0e2c6c"/>
<circle cx="122.70" cy="377.80" r="1.55" fill="#a8102c"/>
<circle cx="124.30" cy="377.80" r="1.55" fill="#a8102c"/>
<circle cx="125.90" cy="377.80" r="1.55" fill="#a8102c"/>
<circle cx="135.70" cy="377.80" r="1.4" fill="#0e2c6c"/>
<circle cx="137.30" cy="377.80" r="1.4" fill="#0e2c6c"/>
<circle cx="138.90" cy="377.80" r="1.4" fill="#0e2c6c"/>
<circle cx="143.40" cy="377.80" r="1.55" fill="#a8102c"/>
<circle cx="145.00" cy="377.80" r="1.55" fill="#a8102c"/>
<circle cx="146.60" cy="377.80" r="1.55" fill="#a8102c"/>
<circle cx="156.50" cy="377.80" r="1.4" fill="#0e2c6c"/>
<circle cx="158.10" cy="377.80" r="1.4" fill="#0e2c6c"/>
<circle cx="159.70" cy="377.80" r="1.4" fill="#0e2c6c"/>
<circle cx="164.00" cy="377.80" r="1.55" fill="#a8102c"/>
<circle cx="165.60" cy="377.80" r="1.55" fill="#a8102c"/>
<circle cx="167.20" cy="377.80" r="1.55" fill="#a8102c"/>
<circle cx="126.50" cy="306.90" r="1.55" fill="#0e2c6c"/>
<circle cx="126.50" cy="315.00" r="1.55" fill="#a8102c"/>
<text x="131.20" y="309.60" font-size="7.9" text-anchor="start" fill="#1e1e1e" textLength="22.7" lengthAdjust="spacingAndGlyphs">Vehicle</text>
<text x="131.20" y="317.50" font-size="7.9" text-anchor="start" fill="#1e1e1e" textLength="22.7" lengthAdjust="spacingAndGlyphs">S·2HG</text>
<path d="M158.0 304.2H160.8V318.5H158.0" fill="none" stroke="#333" stroke-width="1.05"/>
<text x="168.10" y="314.00" font-size="7.0" text-anchor="middle" fill="#1e1e1e" font-style="italic" style="stroke-width:0.05px">ns</text>
<text x="6.60" y="294.50" font-size="12.2" text-anchor="start" fill="#111" font-weight="bold" style="stroke-width:0.1px">G</text>
<line x1="232.40" y1="298.20" x2="232.40" y2="378.90" stroke="#111" stroke-width="1.1"/>
<line x1="229.20" y1="300.40" x2="232.40" y2="300.40" stroke="#111" stroke-width="1.0"/>
<text x="226.20" y="303.25" font-size="8.0" text-anchor="end" fill="#1e1e1e" textLength="22.69" lengthAdjust="spacingAndGlyphs">40000</text>
<line x1="229.20" y1="319.80" x2="232.40" y2="319.80" stroke="#111" stroke-width="1.0"/>
<text x="226.20" y="322.65" font-size="8.0" text-anchor="end" fill="#1e1e1e" textLength="22.69" lengthAdjust="spacingAndGlyphs">30000</text>
<line x1="229.20" y1="339.20" x2="232.40" y2="339.20" stroke="#111" stroke-width="1.0"/>
<text x="226.20" y="342.05" font-size="8.0" text-anchor="end" fill="#1e1e1e" textLength="22.69" lengthAdjust="spacingAndGlyphs">20000</text>
<line x1="229.20" y1="358.70" x2="232.40" y2="358.70" stroke="#111" stroke-width="1.0"/>
<text x="226.20" y="361.55" font-size="8.0" text-anchor="end" fill="#1e1e1e" textLength="22.69" lengthAdjust="spacingAndGlyphs">10000</text>
<line x1="229.20" y1="378.30" x2="232.40" y2="378.30" stroke="#111" stroke-width="1.0"/>
<text x="226.20" y="381.15" font-size="8.0" text-anchor="end" fill="#1e1e1e">0</text>
<line x1="231.80" y1="378.30" x2="359.80" y2="378.30" stroke="#111" stroke-width="1.0"/>
<text x="243.70" y="391.20" font-size="7.9" text-anchor="middle" fill="#1e1e1e">1:1</text>
<text x="264.40" y="391.20" font-size="7.9" text-anchor="middle" fill="#1e1e1e">5:1</text>
<text x="285.00" y="391.20" font-size="7.9" text-anchor="middle" fill="#1e1e1e">10:1</text>
<text x="308.20" y="391.20" font-size="7.9" text-anchor="middle" fill="#1e1e1e">1:1</text>
<text x="328.50" y="391.20" font-size="7.9" text-anchor="middle" fill="#1e1e1e">5:1</text>
<text x="349.40" y="391.20" font-size="7.9" text-anchor="middle" fill="#1e1e1e">10:1</text>
<line x1="238.30" y1="396.50" x2="293.40" y2="396.50" stroke="#3a3a3a" stroke-width="1.2"/>
<line x1="300.60" y1="396.50" x2="357.20" y2="396.50" stroke="#3a3a3a" stroke-width="1.2"/>
<text x="265.70" y="405.70" font-size="7.9" text-anchor="middle" fill="#1e1e1e" textLength="45.6" lengthAdjust="spacingAndGlyphs">Raji (CD19+)</text>
<text x="329.30" y="405.70" font-size="7.9" text-anchor="middle" fill="#1e1e1e" textLength="49.5" lengthAdjust="spacingAndGlyphs">K562 (CD19·)</text>
<text x="265.40" y="292.20" font-size="9.0" text-anchor="start" fill="#1e1e1e" textLength="60.6" lengthAdjust="spacingAndGlyphs">IFN-γ&#160; (tEGFR)</text>
<text x="197.30" y="338.00" font-size="9.4" text-anchor="middle" fill="#1e1e1e" textLength="21.8" lengthAdjust="spacingAndGlyphs" transform="rotate(-90 197.30 338.00)" style="stroke-width:0.32px">pg / ml</text>
<circle cx="238.60" cy="377.80" r="1.4" fill="#0e2c6c"/>
<circle cx="240.20" cy="377.80" r="1.4" fill="#0e2c6c"/>
<circle cx="241.80" cy="377.80" r="1.4" fill="#0e2c6c"/>
<circle cx="245.90" cy="377.80" r="1.55" fill="#a8102c"/>
<circle cx="247.50" cy="377.80" r="1.55" fill="#a8102c"/>
<circle cx="249.10" cy="377.80" r="1.55" fill="#a8102c"/>
<circle cx="259.80" cy="377.80" r="1.4" fill="#0e2c6c"/>
<circle cx="261.40" cy="377.80" r="1.4" fill="#0e2c6c"/>
<circle cx="263.00" cy="377.80" r="1.4" fill="#0e2c6c"/>
<circle cx="266.90" cy="377.80" r="1.55" fill="#a8102c"/>
<circle cx="268.50" cy="377.80" r="1.55" fill="#a8102c"/>
<circle cx="270.10" cy="377.80" r="1.55" fill="#a8102c"/>
<circle cx="280.50" cy="377.80" r="1.4" fill="#0e2c6c"/>
<circle cx="282.10" cy="377.80" r="1.4" fill="#0e2c6c"/>
<circle cx="283.70" cy="377.80" r="1.4" fill="#0e2c6c"/>
<circle cx="288.00" cy="377.60" r="1.55" fill="#a8102c"/>
<circle cx="289.50" cy="376.80" r="1.55" fill="#a8102c"/>
<circle cx="291.00" cy="377.60" r="1.55" fill="#a8102c"/>
<circle cx="301.30" cy="377.80" r="1.4" fill="#0e2c6c"/>
<circle cx="302.90" cy="377.80" r="1.4" fill="#0e2c6c"/>
<circle cx="304.50" cy="377.80" r="1.4" fill="#0e2c6c"/>
<circle cx="308.30" cy="377.80" r="1.55" fill="#a8102c"/>
<circle cx="309.90" cy="377.80" r="1.55" fill="#a8102c"/>
<circle cx="311.50" cy="377.80" r="1.55" fill="#a8102c"/>
<circle cx="321.30" cy="377.80" r="1.4" fill="#0e2c6c"/>
<circle cx="322.90" cy="377.80" r="1.4" fill="#0e2c6c"/>
<circle cx="324.50" cy="377.80" r="1.4" fill="#0e2c6c"/>
<circle cx="329.00" cy="377.80" r="1.55" fill="#a8102c"/>
<circle cx="330.60" cy="377.80" r="1.55" fill="#a8102c"/>
<circle cx="332.20" cy="377.80" r="1.55" fill="#a8102c"/>
<circle cx="342.10" cy="377.80" r="1.4" fill="#0e2c6c"/>
<circle cx="343.70" cy="377.80" r="1.4" fill="#0e2c6c"/>
<circle cx="345.30" cy="377.80" r="1.4" fill="#0e2c6c"/>
<circle cx="349.60" cy="377.80" r="1.55" fill="#a8102c"/>
<circle cx="351.20" cy="377.80" r="1.55" fill="#a8102c"/>
<circle cx="352.80" cy="377.80" r="1.55" fill="#a8102c"/>
<circle cx="329.60" cy="306.90" r="1.55" fill="#0e2c6c"/>
<circle cx="329.60" cy="318.20" r="1.55" fill="#a8102c"/>
<text x="334.50" y="309.60" font-size="7.9" text-anchor="start" fill="#1e1e1e" textLength="22.7" lengthAdjust="spacingAndGlyphs">Vehicle</text>
<text x="334.50" y="320.70" font-size="7.9" text-anchor="start" fill="#1e1e1e" textLength="22.7" lengthAdjust="spacingAndGlyphs">S·2HG</text>
<path d="M361.0 305.6H364.8V319.6H361.0" fill="none" stroke="#333" stroke-width="1.05"/>
<text x="371.50" y="315.00" font-size="7.0" text-anchor="middle" fill="#1e1e1e" font-style="italic" style="stroke-width:0.05px">ns</text>
<line x1="46.50" y1="431.50" x2="46.50" y2="512.00" stroke="#111" stroke-width="1.1"/>
<line x1="43.30" y1="433.70" x2="46.50" y2="433.70" stroke="#111" stroke-width="1.0"/>
<text x="41.00" y="436.55" font-size="8.0" text-anchor="end" fill="#1e1e1e" textLength="13.61" lengthAdjust="spacingAndGlyphs">400</text>
<line x1="43.30" y1="453.10" x2="46.50" y2="453.10" stroke="#111" stroke-width="1.0"/>
<text x="41.00" y="455.95" font-size="8.0" text-anchor="end" fill="#1e1e1e" textLength="13.61" lengthAdjust="spacingAndGlyphs">300</text>
<line x1="43.30" y1="472.50" x2="46.50" y2="472.50" stroke="#111" stroke-width="1.0"/>
<text x="41.00" y="475.35" font-size="8.0" text-anchor="end" fill="#1e1e1e" textLength="13.61" lengthAdjust="spacingAndGlyphs">200</text>
<line x1="43.30" y1="491.90" x2="46.50" y2="491.90" stroke="#111" stroke-width="1.0"/>
<text x="41.00" y="494.75" font-size="8.0" text-anchor="end" fill="#1e1e1e" textLength="13.61" lengthAdjust="spacingAndGlyphs">100</text>
<line x1="43.30" y1="511.20" x2="46.50" y2="511.20" stroke="#111" stroke-width="1.0"/>
<text x="41.00" y="514.05" font-size="8.0" text-anchor="end" fill="#1e1e1e">0</text>
<line x1="45.90" y1="511.40" x2="174.00" y2="511.40" stroke="#111" stroke-width="1.0"/>
<text x="58.10" y="521.90" font-size="7.9" text-anchor="middle" fill="#1e1e1e">1:1</text>
<text x="78.80" y="521.90" font-size="7.9" text-anchor="middle" fill="#1e1e1e">5:1</text>
<text x="99.40" y="521.90" font-size="7.9" text-anchor="middle" fill="#1e1e1e">10:1</text>
<text x="122.60" y="521.90" font-size="7.9" text-anchor="middle" fill="#1e1e1e">1:1</text>
<text x="142.90" y="521.90" font-size="7.9" text-anchor="middle" fill="#1e1e1e">5:1</text>
<text x="163.80" y="521.90" font-size="7.9" text-anchor="middle" fill="#1e1e1e">10:1</text>
<line x1="52.70" y1="526.30" x2="107.80" y2="526.30" stroke="#3a3a3a" stroke-width="1.2"/>
<line x1="115.00" y1="526.30" x2="171.60" y2="526.30" stroke="#3a3a3a" stroke-width="1.2"/>
<text x="80.10" y="535.80" font-size="7.9" text-anchor="middle" fill="#1e1e1e" textLength="45.6" lengthAdjust="spacingAndGlyphs">Raji (CD19+)</text>
<text x="143.70" y="535.80" font-size="7.9" text-anchor="middle" fill="#1e1e1e" textLength="49.5" lengthAdjust="spacingAndGlyphs">K562 (CD19·)</text>
<text x="82.90" y="426.00" font-size="9.0" text-anchor="start" fill="#1e1e1e" textLength="54.3" lengthAdjust="spacingAndGlyphs">TNF-α (CAR)</text>
<text x="21.00" y="471.30" font-size="9.4" text-anchor="middle" fill="#1e1e1e" textLength="21.8" lengthAdjust="spacingAndGlyphs" transform="rotate(-90 21.00 471.30)" style="stroke-width:0.32px">pg / ml</text>
<line x1="55.20" y1="497.70" x2="55.20" y2="508.50" stroke="#2c4b8c" stroke-width="0.9"/>
<line x1="53.20" y1="497.70" x2="57.20" y2="497.70" stroke="#2c4b8c" stroke-width="0.9"/>
<line x1="53.20" y1="508.50" x2="57.20" y2="508.50" stroke="#2c4b8c" stroke-width="0.9"/>
<line x1="52.10" y1="503.10" x2="58.30" y2="503.10" stroke="#2c4b8c" stroke-width="1.0"/>
<circle cx="55.20" cy="492.90" r="1.4" fill="#0e2c6c"/>
<circle cx="56.20" cy="506.40" r="1.4" fill="#0e2c6c"/>
<circle cx="52.50" cy="509.00" r="1.4" fill="#0e2c6c"/>
<line x1="62.50" y1="505.50" x2="62.50" y2="509.00" stroke="#b81a40" stroke-width="0.9"/>
<line x1="60.50" y1="505.50" x2="64.50" y2="505.50" stroke="#b81a40" stroke-width="0.9"/>
<line x1="60.50" y1="509.00" x2="64.50" y2="509.00" stroke="#b81a40" stroke-width="0.9"/>
<line x1="59.40" y1="507.20" x2="65.60" y2="507.20" stroke="#b81a40" stroke-width="1.0"/>
<circle cx="60.60" cy="505.80" r="1.55" fill="#a8102c"/>
<circle cx="64.00" cy="507.40" r="1.55" fill="#a8102c"/>
<circle cx="62.50" cy="509.30" r="1.55" fill="#a8102c"/>
<line x1="75.40" y1="456.80" x2="75.40" y2="479.70" stroke="#2c4b8c" stroke-width="0.9"/>
<line x1="73.40" y1="456.80" x2="77.40" y2="456.80" stroke="#2c4b8c" stroke-width="0.9"/>
<line x1="73.40" y1="479.70" x2="77.40" y2="479.70" stroke="#2c4b8c" stroke-width="0.9"/>
<line x1="72.30" y1="468.70" x2="78.50" y2="468.70" stroke="#2c4b8c" stroke-width="1.0"/>
<circle cx="73.20" cy="456.50" r="1.4" fill="#0e2c6c"/>
<circle cx="78.10" cy="457.90" r="1.4" fill="#0e2c6c"/>
<circle cx="75.40" cy="490.70" r="1.4" fill="#0e2c6c"/>
<line x1="82.90" y1="473.20" x2="82.90" y2="491.50" stroke="#b81a40" stroke-width="0.9"/>
<line x1="80.90" y1="473.20" x2="84.90" y2="473.20" stroke="#b81a40" stroke-width="0.9"/>
<line x1="80.90" y1="491.50" x2="84.90" y2="491.50" stroke="#b81a40" stroke-width="0.9"/>
<line x1="79.80" y1="482.90" x2="86.00" y2="482.90" stroke="#b81a40" stroke-width="1.0"/>
<circle cx="82.90" cy="466.20" r="1.55" fill="#a8102c"/>
<circle cx="82.90" cy="483.50" r="1.55" fill="#a8102c"/>
<circle cx="82.90" cy="497.70" r="1.55" fill="#a8102c"/>
<line x1="96.10" y1="459.80" x2="96.10" y2="480.00" stroke="#2c4b8c" stroke-width="0.9"/>
<line x1="94.10" y1="459.80" x2="98.10" y2="459.80" stroke="#2c4b8c" stroke-width="0.9"/>
<line x1="94.10" y1="480.00" x2="98.10" y2="480.00" stroke="#2c4b8c" stroke-width="0.9"/>
<line x1="93.00" y1="470.50" x2="99.20" y2="470.50" stroke="#2c4b8c" stroke-width="1.0"/>
<circle cx="94.20" cy="459.80" r="1.4" fill="#0e2c6c"/>
<circle cx="98.30" cy="460.60" r="1.4" fill="#0e2c6c"/>
<circle cx="96.10" cy="490.70" r="1.4" fill="#0e2c6c"/>
<line x1="103.10" y1="459.20" x2="103.10" y2="479.40" stroke="#b81a40" stroke-width="0.9"/>
<line x1="101.10" y1="459.20" x2="105.10" y2="459.20" stroke="#b81a40" stroke-width="0.9"/>
<line x1="101.10" y1="479.40" x2="105.10" y2="479.40" stroke="#b81a40" stroke-width="0.9"/>
<line x1="100.00" y1="469.50" x2="106.20" y2="469.50" stroke="#b81a40" stroke-width="1.0"/>
<circle cx="103.10" cy="450.30" r="1.55" fill="#a8102c"/>
<circle cx="103.10" cy="472.20" r="1.55" fill="#a8102c"/>
<circle cx="103.10" cy="484.80" r="1.55" fill="#a8102c"/>
<circle cx="115.70" cy="510.70" r="1.4" fill="#0e2c6c"/>
<circle cx="117.30" cy="510.70" r="1.4" fill="#0e2c6c"/>
<circle cx="118.90" cy="510.70" r="1.4" fill="#0e2c6c"/>
<circle cx="122.70" cy="510.70" r="1.55" fill="#a8102c"/>
<circle cx="124.30" cy="510.70" r="1.55" fill="#a8102c"/>
<circle cx="125.90" cy="510.70" r="1.55" fill="#a8102c"/>
<circle cx="135.70" cy="510.70" r="1.4" fill="#0e2c6c"/>
<circle cx="137.30" cy="510.70" r="1.4" fill="#0e2c6c"/>
<circle cx="138.90" cy="510.70" r="1.4" fill="#0e2c6c"/>
<circle cx="143.40" cy="510.70" r="1.55" fill="#a8102c"/>
<circle cx="145.00" cy="510.70" r="1.55" fill="#a8102c"/>
<circle cx="146.60" cy="510.70" r="1.55" fill="#a8102c"/>
<circle cx="156.50" cy="510.70" r="1.4" fill="#0e2c6c"/>
<circle cx="158.10" cy="510.70" r="1.4" fill="#0e2c6c"/>
<circle cx="159.70" cy="510.70" r="1.4" fill="#0e2c6c"/>
<circle cx="164.00" cy="510.20" r="1.55" fill="#a8102c"/>
<circle cx="165.60" cy="510.20" r="1.55" fill="#a8102c"/>
<circle cx="167.20" cy="510.20" r="1.55" fill="#a8102c"/>
<circle cx="129.60" cy="440.40" r="1.55" fill="#0e2c6c"/>
<circle cx="129.60" cy="448.50" r="1.55" fill="#a8102c"/>
<text x="134.50" y="443.10" font-size="7.9" text-anchor="start" fill="#1e1e1e" textLength="22.7" lengthAdjust="spacingAndGlyphs">Vehicle</text>
<text x="134.50" y="451.00" font-size="7.9" text-anchor="start" fill="#1e1e1e" textLength="22.7" lengthAdjust="spacingAndGlyphs">S·2HG</text>
<path d="M161.4 437.2H165.2V450.6H161.4" fill="none" stroke="#333" stroke-width="1.05"/>
<text x="172.00" y="446.60" font-size="7.0" text-anchor="middle" fill="#1e1e1e" font-style="italic" style="stroke-width:0.05px">ns</text>
<text x="6.50" y="427.10" font-size="12.2" text-anchor="start" fill="#111" font-weight="bold" style="stroke-width:0.1px">H</text>
<line x1="232.40" y1="431.50" x2="232.40" y2="512.00" stroke="#111" stroke-width="1.1"/>
<line x1="229.20" y1="433.70" x2="232.40" y2="433.70" stroke="#111" stroke-width="1.0"/>
<text x="226.50" y="436.55" font-size="8.0" text-anchor="end" fill="#1e1e1e" textLength="13.61" lengthAdjust="spacingAndGlyphs">400</text>
<line x1="229.20" y1="453.10" x2="232.40" y2="453.10" stroke="#111" stroke-width="1.0"/>
<text x="226.50" y="455.95" font-size="8.0" text-anchor="end" fill="#1e1e1e" textLength="13.61" lengthAdjust="spacingAndGlyphs">300</text>
<line x1="229.20" y1="472.50" x2="232.40" y2="472.50" stroke="#111" stroke-width="1.0"/>
<text x="226.50" y="475.35" font-size="8.0" text-anchor="end" fill="#1e1e1e" textLength="13.61" lengthAdjust="spacingAndGlyphs">200</text>
<line x1="229.20" y1="491.90" x2="232.40" y2="491.90" stroke="#111" stroke-width="1.0"/>
<text x="226.50" y="494.75" font-size="8.0" text-anchor="end" fill="#1e1e1e" textLength="13.61" lengthAdjust="spacingAndGlyphs">100</text>
<line x1="229.20" y1="511.20" x2="232.40" y2="511.20" stroke="#111" stroke-width="1.0"/>
<text x="226.50" y="514.05" font-size="8.0" text-anchor="end" fill="#1e1e1e">0</text>
<line x1="231.80" y1="511.40" x2="359.80" y2="511.40" stroke="#111" stroke-width="1.0"/>
<text x="243.70" y="521.90" font-size="7.9" text-anchor="middle" fill="#1e1e1e">1:1</text>
<text x="264.40" y="521.90" font-size="7.9" text-anchor="middle" fill="#1e1e1e">5:1</text>
<text x="285.00" y="521.90" font-size="7.9" text-anchor="middle" fill="#1e1e1e">10:1</text>
<text x="308.20" y="521.90" font-size="7.9" text-anchor="middle" fill="#1e1e1e">1:1</text>
<text x="328.50" y="521.90" font-size="7.9" text-anchor="middle" fill="#1e1e1e">5:1</text>
<text x="349.40" y="521.90" font-size="7.9" text-anchor="middle" fill="#1e1e1e">10:1</text>
<line x1="238.30" y1="526.30" x2="293.40" y2="526.30" stroke="#3a3a3a" stroke-width="1.2"/>
<line x1="300.60" y1="526.30" x2="357.20" y2="526.30" stroke="#3a3a3a" stroke-width="1.2"/>
<text x="265.70" y="535.80" font-size="7.9" text-anchor="middle" fill="#1e1e1e" textLength="45.6" lengthAdjust="spacingAndGlyphs">Raji (CD19+)</text>
<text x="329.30" y="535.80" font-size="7.9" text-anchor="middle" fill="#1e1e1e" textLength="49.5" lengthAdjust="spacingAndGlyphs">K562 (CD19·)</text>
<text x="264.60" y="426.00" font-size="9.0" text-anchor="start" fill="#1e1e1e" textLength="63.3" lengthAdjust="spacingAndGlyphs">TNF-α (tEGFR)</text>
<text x="206.60" y="471.30" font-size="9.4" text-anchor="middle" fill="#1e1e1e" textLength="21.8" lengthAdjust="spacingAndGlyphs" transform="rotate(-90 206.60 471.30)" style="stroke-width:0.32px">pg / ml</text>
<circle cx="238.60" cy="510.70" r="1.4" fill="#0e2c6c"/>
<circle cx="240.20" cy="510.70" r="1.4" fill="#0e2c6c"/>
<circle cx="241.80" cy="510.70" r="1.4" fill="#0e2c6c"/>
<circle cx="245.90" cy="510.70" r="1.55" fill="#a8102c"/>
<circle cx="247.50" cy="510.70" r="1.55" fill="#a8102c"/>
<circle cx="249.10" cy="510.70" r="1.55" fill="#a8102c"/>
<circle cx="259.80" cy="510.70" r="1.4" fill="#0e2c6c"/>
<circle cx="261.40" cy="510.70" r="1.4" fill="#0e2c6c"/>
<circle cx="263.00" cy="510.70" r="1.4" fill="#0e2c6c"/>
<circle cx="266.90" cy="510.70" r="1.55" fill="#a8102c"/>
<circle cx="268.50" cy="510.70" r="1.55" fill="#a8102c"/>
<circle cx="270.10" cy="510.70" r="1.55" fill="#a8102c"/>
<circle cx="280.50" cy="510.30" r="1.4" fill="#0e2c6c"/>
<circle cx="282.10" cy="509.80" r="1.4" fill="#0e2c6c"/>
<circle cx="283.70" cy="510.50" r="1.4" fill="#0e2c6c"/>
<circle cx="288.00" cy="509.60" r="1.55" fill="#a8102c"/>
<circle cx="289.50" cy="508.80" r="1.55" fill="#a8102c"/>
<circle cx="291.00" cy="509.60" r="1.55" fill="#a8102c"/>
<circle cx="301.30" cy="510.70" r="1.4" fill="#0e2c6c"/>
<circle cx="302.90" cy="510.70" r="1.4" fill="#0e2c6c"/>
<circle cx="304.50" cy="510.70" r="1.4" fill="#0e2c6c"/>
<circle cx="308.30" cy="510.70" r="1.55" fill="#a8102c"/>
<circle cx="309.90" cy="510.70" r="1.55" fill="#a8102c"/>
<circle cx="311.50" cy="510.70" r="1.55" fill="#a8102c"/>
<circle cx="321.30" cy="510.70" r="1.4" fill="#0e2c6c"/>
<circle cx="322.90" cy="510.70" r="1.4" fill="#0e2c6c"/>
<circle cx="324.50" cy="510.70" r="1.4" fill="#0e2c6c"/>
<circle cx="329.00" cy="510.70" r="1.55" fill="#a8102c"/>
<circle cx="330.60" cy="510.70" r="1.55" fill="#a8102c"/>
<circle cx="332.20" cy="510.70" r="1.55" fill="#a8102c"/>
<circle cx="342.10" cy="510.70" r="1.4" fill="#0e2c6c"/>
<circle cx="343.70" cy="510.70" r="1.4" fill="#0e2c6c"/>
<circle cx="345.30" cy="510.70" r="1.4" fill="#0e2c6c"/>
<circle cx="350.00" cy="510.00" r="1.55" fill="#a8102c"/>
<circle cx="351.50" cy="509.00" r="1.55" fill="#a8102c"/>
<circle cx="353.00" cy="510.00" r="1.55" fill="#a8102c"/>
<circle cx="335.50" cy="442.30" r="1.55" fill="#0e2c6c"/>
<circle cx="335.50" cy="451.20" r="1.55" fill="#a8102c"/>
<text x="340.40" y="445.00" font-size="7.9" text-anchor="start" fill="#1e1e1e" textLength="22.7" lengthAdjust="spacingAndGlyphs">Vehicle</text>
<text x="340.40" y="453.70" font-size="7.9" text-anchor="start" fill="#1e1e1e" textLength="22.7" lengthAdjust="spacingAndGlyphs">S·2HG</text>
<path d="M371.4 439.6H375.4V453.0H371.4" fill="none" stroke="#333" stroke-width="1.05"/>
<text x="380.30" y="449.30" font-size="7.0" text-anchor="middle" fill="#1e1e1e" style="stroke-width:0.05px">ns</text>
<line x1="46.50" y1="561.50" x2="46.50" y2="642.00" stroke="#111" stroke-width="1.1"/>
<line x1="43.30" y1="563.70" x2="46.50" y2="563.70" stroke="#111" stroke-width="1.0"/>
<text x="41.00" y="566.55" font-size="8.0" text-anchor="end" fill="#1e1e1e" textLength="13.61" lengthAdjust="spacingAndGlyphs">800</text>
<line x1="43.30" y1="583.10" x2="46.50" y2="583.10" stroke="#111" stroke-width="1.0"/>
<text x="41.00" y="585.95" font-size="8.0" text-anchor="end" fill="#1e1e1e" textLength="13.61" lengthAdjust="spacingAndGlyphs">600</text>
<line x1="43.30" y1="602.50" x2="46.50" y2="602.50" stroke="#111" stroke-width="1.0"/>
<text x="41.00" y="605.35" font-size="8.0" text-anchor="end" fill="#1e1e1e" textLength="13.61" lengthAdjust="spacingAndGlyphs">400</text>
<line x1="43.30" y1="621.90" x2="46.50" y2="621.90" stroke="#111" stroke-width="1.0"/>
<text x="41.00" y="624.75" font-size="8.0" text-anchor="end" fill="#1e1e1e" textLength="13.61" lengthAdjust="spacingAndGlyphs">200</text>
<line x1="43.30" y1="641.20" x2="46.50" y2="641.20" stroke="#111" stroke-width="1.0"/>
<text x="41.00" y="644.05" font-size="8.0" text-anchor="end" fill="#1e1e1e">0</text>
<line x1="45.90" y1="641.40" x2="174.00" y2="641.40" stroke="#111" stroke-width="1.0"/>
<text x="58.10" y="651.70" font-size="7.9" text-anchor="middle" fill="#1e1e1e">1:1</text>
<text x="78.80" y="651.70" font-size="7.9" text-anchor="middle" fill="#1e1e1e">5:1</text>
<text x="99.40" y="651.70" font-size="7.9" text-anchor="middle" fill="#1e1e1e">10:1</text>
<text x="122.60" y="651.70" font-size="7.9" text-anchor="middle" fill="#1e1e1e">1:1</text>
<text x="142.90" y="651.70" font-size="7.9" text-anchor="middle" fill="#1e1e1e">5:1</text>
<text x="163.80" y="651.70" font-size="7.9" text-anchor="middle" fill="#1e1e1e">10:1</text>
<line x1="52.70" y1="656.30" x2="107.80" y2="656.30" stroke="#3a3a3a" stroke-width="1.2"/>
<line x1="115.00" y1="656.30" x2="171.60" y2="656.30" stroke="#3a3a3a" stroke-width="1.2"/>
<text x="80.10" y="665.80" font-size="7.9" text-anchor="middle" fill="#1e1e1e" textLength="45.6" lengthAdjust="spacingAndGlyphs">Raji (CD19+)</text>
<text x="143.70" y="665.80" font-size="7.9" text-anchor="middle" fill="#1e1e1e" textLength="49.5" lengthAdjust="spacingAndGlyphs">K562 (CD19·)</text>
<text x="88.90" y="556.00" font-size="9.0" text-anchor="start" fill="#1e1e1e" textLength="43.0" lengthAdjust="spacingAndGlyphs">IL-2 (CAR)</text>
<text x="21.00" y="601.30" font-size="9.4" text-anchor="middle" fill="#1e1e1e" textLength="21.8" lengthAdjust="spacingAndGlyphs" transform="rotate(-90 21.00 601.30)" style="stroke-width:0.32px">pg / ml</text>
<line x1="55.20" y1="626.90" x2="55.20" y2="636.40" stroke="#2c4b8c" stroke-width="0.9"/>
<line x1="53.20" y1="626.90" x2="57.20" y2="626.90" stroke="#2c4b8c" stroke-width="0.9"/>
<line x1="53.20" y1="636.40" x2="57.20" y2="636.40" stroke="#2c4b8c" stroke-width="0.9"/>
<line x1="52.10" y1="631.80" x2="58.30" y2="631.80" stroke="#2c4b8c" stroke-width="1.0"/>
<circle cx="55.20" cy="622.90" r="1.4" fill="#0e2c6c"/>
<circle cx="55.20" cy="631.50" r="1.4" fill="#0e2c6c"/>
<circle cx="55.20" cy="639.30" r="1.4" fill="#0e2c6c"/>
<line x1="62.50" y1="631.50" x2="62.50" y2="634.50" stroke="#b81a40" stroke-width="0.9"/>
<line x1="60.50" y1="631.50" x2="64.50" y2="631.50" stroke="#b81a40" stroke-width="0.9"/>
<line x1="60.50" y1="634.50" x2="64.50" y2="634.50" stroke="#b81a40" stroke-width="0.9"/>
<line x1="59.40" y1="633.10" x2="65.60" y2="633.10" stroke="#b81a40" stroke-width="1.0"/>
<circle cx="60.60" cy="632.30" r="1.55" fill="#a8102c"/>
<circle cx="64.20" cy="632.30" r="1.55" fill="#a8102c"/>
<circle cx="62.50" cy="635.00" r="1.55" fill="#a8102c"/>
<line x1="75.40" y1="602.20" x2="75.40" y2="612.90" stroke="#2c4b8c" stroke-width="0.9"/>
<line x1="73.40" y1="602.20" x2="77.40" y2="602.20" stroke="#2c4b8c" stroke-width="0.9"/>
<line x1="73.40" y1="612.90" x2="77.40" y2="612.90" stroke="#2c4b8c" stroke-width="0.9"/>
<line x1="72.30" y1="608.10" x2="78.50" y2="608.10" stroke="#2c4b8c" stroke-width="1.0"/>
<circle cx="75.40" cy="597.30" r="1.4" fill="#0e2c6c"/>
<circle cx="75.40" cy="608.10" r="1.4" fill="#0e2c6c"/>
<circle cx="75.40" cy="618.00" r="1.4" fill="#0e2c6c"/>
<line x1="82.70" y1="592.50" x2="82.70" y2="602.70" stroke="#b81a40" stroke-width="0.9"/>
<line x1="80.70" y1="592.50" x2="84.70" y2="592.50" stroke="#b81a40" stroke-width="0.9"/>
<line x1="80.70" y1="602.70" x2="84.70" y2="602.70" stroke="#b81a40" stroke-width="0.9"/>
<line x1="79.60" y1="597.90" x2="85.80" y2="597.90" stroke="#b81a40" stroke-width="1.0"/>
<circle cx="82.70" cy="590.60" r="1.55" fill="#a8102c"/>
<circle cx="82.70" cy="592.50" r="1.55" fill="#a8102c"/>
<circle cx="82.70" cy="593.80" r="1.55" fill="#a8102c"/>
<circle cx="82.70" cy="608.90" r="1.55" fill="#a8102c"/>
<line x1="96.40" y1="612.20" x2="96.40" y2="620.20" stroke="#2c4b8c" stroke-width="0.9"/>
<line x1="94.40" y1="612.20" x2="98.40" y2="612.20" stroke="#2c4b8c" stroke-width="0.9"/>
<line x1="94.40" y1="620.20" x2="98.40" y2="620.20" stroke="#2c4b8c" stroke-width="0.9"/>
<line x1="93.30" y1="616.10" x2="99.50" y2="616.10" stroke="#2c4b8c" stroke-width="1.0"/>
<circle cx="96.40" cy="609.20" r="1.4" fill="#0e2c6c"/>
<circle cx="96.40" cy="623.60" r="1.4" fill="#0e2c6c"/>
<line x1="103.50" y1="587.60" x2="103.50" y2="596.00" stroke="#b81a40" stroke-width="0.9"/>
<line x1="101.50" y1="587.60" x2="105.50" y2="587.60" stroke="#b81a40" stroke-width="0.9"/>
<line x1="101.50" y1="596.00" x2="105.50" y2="596.00" stroke="#b81a40" stroke-width="0.9"/>
<line x1="100.40" y1="591.70" x2="106.60" y2="591.70" stroke="#b81a40" stroke-width="1.0"/>
<circle cx="103.30" cy="583.60" r="1.55" fill="#a8102c"/>
<circle cx="105.20" cy="594.90" r="1.55" fill="#a8102c"/>
<circle cx="101.70" cy="597.40" r="1.55" fill="#a8102c"/>
<circle cx="115.30" cy="640.40" r="1.4" fill="#0e2c6c"/>
<circle cx="116.90" cy="640.40" r="1.4" fill="#0e2c6c"/>
<circle cx="118.50" cy="640.40" r="1.4" fill="#0e2c6c"/>
<circle cx="123.10" cy="640.00" r="1.55" fill="#a8102c"/>
<circle cx="124.60" cy="639.20" r="1.55" fill="#a8102c"/>
<circle cx="126.10" cy="640.00" r="1.55" fill="#a8102c"/>
<circle cx="136.00" cy="640.00" r="1.4" fill="#0e2c6c"/>
<circle cx="137.50" cy="639.30" r="1.4" fill="#0e2c6c"/>
<circle cx="139.00" cy="640.20" r="1.4" fill="#0e2c6c"/>
<line x1="144.60" y1="636.50" x2="144.60" y2="639.50" stroke="#b81a40" stroke-width="0.9"/>
<line x1="142.60" y1="636.50" x2="146.60" y2="636.50" stroke="#b81a40" stroke-width="0.9"/>
<line x1="142.60" y1="639.50" x2="146.60" y2="639.50" stroke="#b81a40" stroke-width="0.9"/>
<line x1="141.50" y1="638.00" x2="147.70" y2="638.00" stroke="#b81a40" stroke-width="1.0"/>
<circle cx="143.30" cy="635.80" r="1.55" fill="#a8102c"/>
<circle cx="145.60" cy="636.50" r="1.55" fill="#a8102c"/>
<circle cx="144.60" cy="640.50" r="1.55" fill="#a8102c"/>
<circle cx="157.00" cy="639.50" r="1.4" fill="#0e2c6c"/>
<circle cx="158.50" cy="638.80" r="1.4" fill="#0e2c6c"/>
<circle cx="160.00" cy="640.00" r="1.4" fill="#0e2c6c"/>
<line x1="166.00" y1="633.70" x2="166.00" y2="638.00" stroke="#b81a40" stroke-width="0.9"/>
<line x1="164.00" y1="633.70" x2="168.00" y2="633.70" stroke="#b81a40" stroke-width="0.9"/>
<line x1="164.00" y1="638.00" x2="168.00" y2="638.00" stroke="#b81a40" stroke-width="0.9"/>
<line x1="162.90" y1="635.80" x2="169.10" y2="635.80" stroke="#b81a40" stroke-width="1.0"/>
<circle cx="166.00" cy="631.80" r="1.55" fill="#a8102c"/>
<circle cx="166.00" cy="635.50" r="1.55" fill="#a8102c"/>
<circle cx="166.00" cy="640.50" r="1.55" fill="#a8102c"/>
<circle cx="133.70" cy="570.40" r="1.55" fill="#0e2c6c"/>
<circle cx="133.70" cy="579.00" r="1.55" fill="#a8102c"/>
<text x="138.50" y="573.10" font-size="7.9" text-anchor="start" fill="#1e1e1e" textLength="22.7" lengthAdjust="spacingAndGlyphs">Vehicle</text>
<text x="138.50" y="581.50" font-size="7.9" text-anchor="start" fill="#1e1e1e" textLength="22.7" lengthAdjust="spacingAndGlyphs">S·2HG</text>
<path d="M167.3 567.7H171.4V581.2H167.3" fill="none" stroke="#333" stroke-width="1.05"/>
<rect x="174.90" y="573.70" width="1.4" height="1.4" fill="#333"/>
<text x="6.20" y="557.10" font-size="12.2" text-anchor="start" fill="#111" font-weight="bold" style="stroke-width:0.1px">I</text>
<line x1="232.40" y1="561.50" x2="232.40" y2="642.00" stroke="#111" stroke-width="1.1"/>
<line x1="229.20" y1="563.70" x2="232.40" y2="563.70" stroke="#111" stroke-width="1.0"/>
<text x="226.50" y="566.55" font-size="8.0" text-anchor="end" fill="#1e1e1e" textLength="13.61" lengthAdjust="spacingAndGlyphs">800</text>
<line x1="229.20" y1="583.10" x2="232.40" y2="583.10" stroke="#111" stroke-width="1.0"/>
<text x="226.50" y="585.95" font-size="8.0" text-anchor="end" fill="#1e1e1e" textLength="13.61" lengthAdjust="spacingAndGlyphs">600</text>
<line x1="229.20" y1="602.50" x2="232.40" y2="602.50" stroke="#111" stroke-width="1.0"/>
<text x="226.50" y="605.35" font-size="8.0" text-anchor="end" fill="#1e1e1e" textLength="13.61" lengthAdjust="spacingAndGlyphs">400</text>
<line x1="229.20" y1="621.90" x2="232.40" y2="621.90" stroke="#111" stroke-width="1.0"/>
<text x="226.50" y="624.75" font-size="8.0" text-anchor="end" fill="#1e1e1e" textLength="13.61" lengthAdjust="spacingAndGlyphs">200</text>
<line x1="229.20" y1="641.20" x2="232.40" y2="641.20" stroke="#111" stroke-width="1.0"/>
<text x="226.50" y="644.05" font-size="8.0" text-anchor="end" fill="#1e1e1e">0</text>
<line x1="231.80" y1="641.40" x2="359.80" y2="641.40" stroke="#111" stroke-width="1.0"/>
<text x="243.70" y="651.70" font-size="7.9" text-anchor="middle" fill="#1e1e1e">1:1</text>
<text x="264.40" y="651.70" font-size="7.9" text-anchor="middle" fill="#1e1e1e">5:1</text>
<text x="285.00" y="651.70" font-size="7.9" text-anchor="middle" fill="#1e1e1e">10:1</text>
<text x="308.20" y="651.70" font-size="7.9" text-anchor="middle" fill="#1e1e1e">1:1</text>
<text x="328.50" y="651.70" font-size="7.9" text-anchor="middle" fill="#1e1e1e">5:1</text>
<text x="349.40" y="651.70" font-size="7.9" text-anchor="middle" fill="#1e1e1e">10:1</text>
<line x1="238.30" y1="656.30" x2="293.40" y2="656.30" stroke="#3a3a3a" stroke-width="1.2"/>
<line x1="300.60" y1="656.30" x2="357.20" y2="656.30" stroke="#3a3a3a" stroke-width="1.2"/>
<text x="265.70" y="665.80" font-size="7.9" text-anchor="middle" fill="#1e1e1e" textLength="45.6" lengthAdjust="spacingAndGlyphs">Raji (CD19+)</text>
<text x="329.30" y="665.80" font-size="7.9" text-anchor="middle" fill="#1e1e1e" textLength="49.5" lengthAdjust="spacingAndGlyphs">K562 (CD19·)</text>
<text x="269.50" y="556.00" font-size="9.0" text-anchor="start" fill="#1e1e1e" textLength="53.0" lengthAdjust="spacingAndGlyphs">IL-2 (tEGFR)</text>
<text x="206.60" y="601.30" font-size="9.4" text-anchor="middle" fill="#1e1e1e" textLength="21.8" lengthAdjust="spacingAndGlyphs" transform="rotate(-90 206.60 601.30)" style="stroke-width:0.32px">pg / ml</text>
<circle cx="238.80" cy="640.00" r="1.4" fill="#0e2c6c"/>
<circle cx="240.40" cy="640.00" r="1.4" fill="#0e2c6c"/>
<circle cx="242.00" cy="640.00" r="1.4" fill="#0e2c6c"/>
<circle cx="246.40" cy="639.50" r="1.55" fill="#a8102c"/>
<circle cx="247.90" cy="638.00" r="1.55" fill="#a8102c"/>
<circle cx="249.40" cy="639.00" r="1.55" fill="#a8102c"/>
<circle cx="259.90" cy="640.00" r="1.4" fill="#0e2c6c"/>
<circle cx="261.40" cy="638.60" r="1.4" fill="#0e2c6c"/>
<circle cx="262.90" cy="640.00" r="1.4" fill="#0e2c6c"/>
<line x1="269.20" y1="630.20" x2="269.20" y2="635.80" stroke="#b81a40" stroke-width="0.9"/>
<line x1="267.20" y1="630.20" x2="271.20" y2="630.20" stroke="#b81a40" stroke-width="0.9"/>
<line x1="267.20" y1="635.80" x2="271.20" y2="635.80" stroke="#b81a40" stroke-width="0.9"/>
<line x1="266.10" y1="633.10" x2="272.30" y2="633.10" stroke="#b81a40" stroke-width="1.0"/>
<circle cx="267.60" cy="630.20" r="1.55" fill="#a8102c"/>
<circle cx="270.80" cy="630.20" r="1.55" fill="#a8102c"/>
<circle cx="269.20" cy="640.40" r="1.55" fill="#a8102c"/>
<circle cx="280.50" cy="637.30" r="1.4" fill="#0e2c6c"/>
<circle cx="283.60" cy="637.60" r="1.4" fill="#0e2c6c"/>
<circle cx="282.10" cy="639.00" r="1.4" fill="#0e2c6c"/>
<line x1="289.70" y1="622.90" x2="289.70" y2="633.70" stroke="#b81a40" stroke-width="0.9"/>
<line x1="287.70" y1="622.90" x2="291.70" y2="622.90" stroke="#b81a40" stroke-width="0.9"/>
<line x1="287.70" y1="633.70" x2="291.70" y2="633.70" stroke="#b81a40" stroke-width="0.9"/>
<line x1="286.60" y1="628.30" x2="292.80" y2="628.30" stroke="#b81a40" stroke-width="1.0"/>
<circle cx="288.10" cy="620.80" r="1.55" fill="#a8102c"/>
<circle cx="291.20" cy="622.40" r="1.55" fill="#a8102c"/>
<circle cx="289.70" cy="640.00" r="1.55" fill="#a8102c"/>
<circle cx="301.30" cy="640.40" r="1.4" fill="#0e2c6c"/>
<circle cx="302.90" cy="640.40" r="1.4" fill="#0e2c6c"/>
<circle cx="304.50" cy="640.40" r="1.4" fill="#0e2c6c"/>
<circle cx="308.40" cy="639.50" r="1.55" fill="#a8102c"/>
<circle cx="309.90" cy="638.50" r="1.55" fill="#a8102c"/>
<circle cx="311.40" cy="639.00" r="1.55" fill="#a8102c"/>
<circle cx="322.40" cy="640.00" r="1.4" fill="#0e2c6c"/>
<circle cx="323.90" cy="639.00" r="1.4" fill="#0e2c6c"/>
<circle cx="325.40" cy="639.60" r="1.4" fill="#0e2c6c"/>
<line x1="331.40" y1="631.50" x2="331.40" y2="635.80" stroke="#b81a40" stroke-width="0.9"/>
<line x1="329.40" y1="631.50" x2="333.40" y2="631.50" stroke="#b81a40" stroke-width="0.9"/>
<line x1="329.40" y1="635.80" x2="333.40" y2="635.80" stroke="#b81a40" stroke-width="0.9"/>
<line x1="328.30" y1="633.70" x2="334.50" y2="633.70" stroke="#b81a40" stroke-width="1.0"/>
<circle cx="330.00" cy="631.00" r="1.55" fill="#a8102c"/>
<circle cx="332.60" cy="632.30" r="1.55" fill="#a8102c"/>
<circle cx="331.40" cy="640.40" r="1.55" fill="#a8102c"/>
<circle cx="342.90" cy="638.50" r="1.4" fill="#0e2c6c"/>
<circle cx="344.40" cy="637.70" r="1.4" fill="#0e2c6c"/>
<circle cx="345.90" cy="638.50" r="1.4" fill="#0e2c6c"/>
<line x1="351.80" y1="626.50" x2="351.80" y2="635.20" stroke="#b81a40" stroke-width="0.9"/>
<line x1="349.80" y1="626.50" x2="353.80" y2="626.50" stroke="#b81a40" stroke-width="0.9"/>
<line x1="349.80" y1="635.20" x2="353.80" y2="635.20" stroke="#b81a40" stroke-width="0.9"/>
<line x1="348.70" y1="629.80" x2="354.90" y2="629.80" stroke="#b81a40" stroke-width="1.0"/>
<circle cx="351.80" cy="622.20" r="1.55" fill="#a8102c"/>
<circle cx="351.80" cy="624.40" r="1.55" fill="#a8102c"/>
<circle cx="351.80" cy="626.50" r="1.55" fill="#a8102c"/>
<circle cx="351.80" cy="640.20" r="1.55" fill="#a8102c"/>
<circle cx="326.90" cy="572.30" r="1.55" fill="#0e2c6c"/>
<circle cx="326.90" cy="583.80" r="1.55" fill="#a8102c"/>
<text x="331.50" y="575.00" font-size="7.9" text-anchor="start" fill="#1e1e1e" textLength="22.7" lengthAdjust="spacingAndGlyphs">Vehicle</text>
<text x="331.50" y="586.30" font-size="7.9" text-anchor="start" fill="#1e1e1e" textLength="22.7" lengthAdjust="spacingAndGlyphs">S·2HG</text>
<path d="M362.5 569.8H366.0V584.4H362.5" fill="none" stroke="#333" stroke-width="1.05"/>
<rect x="369.50" y="576.40" width="1.4" height="1.4" fill="#333"/>
</g>
<rect x="0.5" y="0.5" width="519" height="674" fill="none" stroke="#111" stroke-width="1.1"/>
</svg>
</body></html>
